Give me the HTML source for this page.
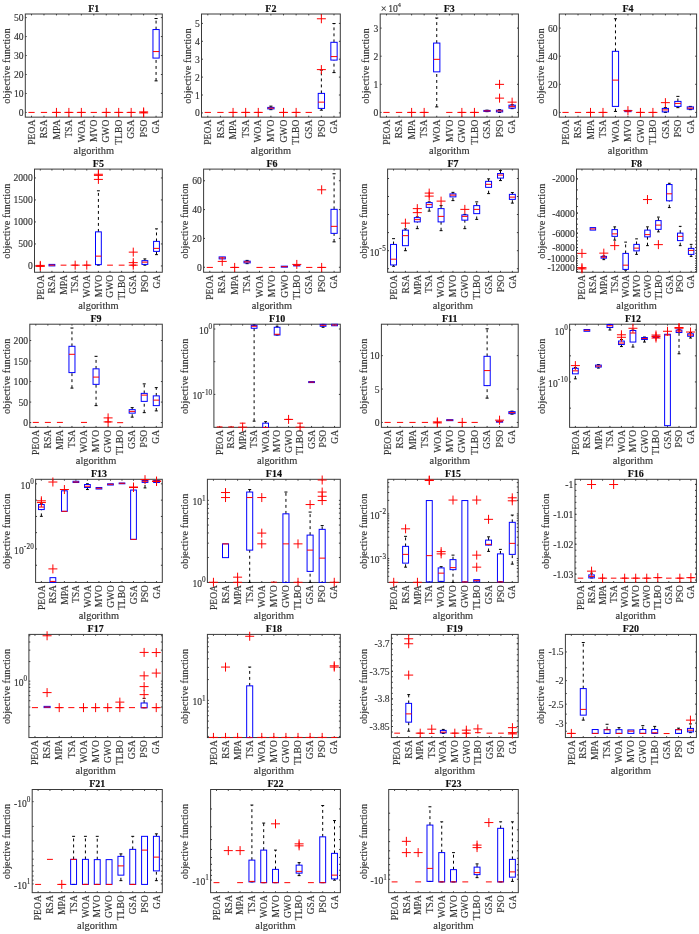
<!DOCTYPE html><html><head><meta charset="utf-8"><style>html,body{margin:0;padding:0;background:#fff;overflow:hidden;}svg{display:block;filter:blur(0.35px);}text{font-family:"Liberation Serif",serif;stroke:currentColor;stroke-width:0.15px;}</style></head><body><svg width="699" height="934" viewBox="0 0 699 934" font-family="Liberation Serif, serif" stroke-width="1"><g><clipPath id="cF1"><rect x="24.7" y="13.4" width="138.2" height="104.35"/></clipPath><rect x="25.3" y="14" width="137" height="103.15" fill="none" stroke="#3a3a3a"/><path d="M31.53 117.15v-1.4M31.53 14v1.4M43.98 117.15v-1.4M43.98 14v1.4M56.44 117.15v-1.4M56.44 14v1.4M68.89 117.15v-1.4M68.89 14v1.4M81.35 117.15v-1.4M81.35 14v1.4M93.8 117.15v-1.4M93.8 14v1.4M106.25 117.15v-1.4M106.25 14v1.4M118.71 117.15v-1.4M118.71 14v1.4M131.16 117.15v-1.4M131.16 14v1.4M143.62 117.15v-1.4M143.62 14v1.4M156.07 117.15v-1.4M156.07 14v1.4M25.3 17.6h1.4M162.3 17.6h-1.4M25.3 36.57h1.4M162.3 36.57h-1.4M25.3 55.54h1.4M162.3 55.54h-1.4M25.3 74.5h1.4M162.3 74.5h-1.4M25.3 93.47h1.4M162.3 93.47h-1.4M25.3 112.44h1.4M162.3 112.44h-1.4" stroke="#3a3a3a" stroke-width="1.0" fill="none"/><g clip-path="url(#cF1)" stroke-width="1.0"><path d="M28.41 112.41H34.64" stroke="#ff0000"/><path d="M40.87 112.41H47.1" stroke="#ff0000"/><path d="M53.32 112.41H59.55" stroke="#ff0000"/><path d="M65.78 112.41H72" stroke="#ff0000"/><path d="M78.23 112.41H84.46" stroke="#ff0000"/><path d="M90.69 112.41H96.91" stroke="#ff0000"/><path d="M103.14 112.41H109.37" stroke="#ff0000"/><path d="M115.6 112.41H121.82" stroke="#ff0000"/><path d="M128.05 112.41H134.28" stroke="#ff0000"/><path d="M140.5 112.41H146.73" stroke="#ff0000"/><path d="M156.07 29.54V18.53M156.07 80.87V58.08" stroke="#000000" stroke-dasharray="2.9 3.1" fill="none"/><path d="M154.52 18.53H157.63M154.52 80.87H157.63" stroke="#000000" fill="none"/><rect x="152.96" y="29.54" width="6.23" height="28.54" stroke="#0000ff" fill="none"/><path d="M152.96 51.57H159.19" stroke="#ff0000"/></g><g stroke-width="1.0"><path d="M51.94 112.41H60.94M56.44 107.91V116.91" stroke="#ff0000"/><path d="M64.39 112.41H73.39M68.89 107.91V116.91" stroke="#ff0000"/><path d="M76.85 112.41H85.85M81.35 107.91V116.91" stroke="#ff0000"/><path d="M101.75 112.41H110.75M106.25 107.91V116.91" stroke="#ff0000"/><path d="M114.21 112.41H123.21M118.71 107.91V116.91" stroke="#ff0000"/><path d="M126.66 112.41H135.66M131.16 107.91V116.91" stroke="#ff0000"/><path d="M139.12 111.91H148.12M143.62 107.41V116.41" stroke="#ff0000"/><path d="M139.12 112.91H148.12M143.62 108.41V117.41" stroke="#ff0000"/></g><text x="23.5" y="21.1" text-anchor="end" font-size="9.6" fill="#333333" color="#333333">50</text><text x="23.5" y="40.07" text-anchor="end" font-size="9.6" fill="#333333" color="#333333">40</text><text x="23.5" y="59.04" text-anchor="end" font-size="9.6" fill="#333333" color="#333333">30</text><text x="23.5" y="78" text-anchor="end" font-size="9.6" fill="#333333" color="#333333">20</text><text x="23.5" y="96.97" text-anchor="end" font-size="9.6" fill="#333333" color="#333333">10</text><text x="23.5" y="115.94" text-anchor="end" font-size="9.6" fill="#333333" color="#333333">0</text><text transform="translate(34.73,119.65) rotate(-90)" text-anchor="end" font-size="9.6" fill="#333333" color="#333333">PEOA</text><text transform="translate(47.18,119.65) rotate(-90)" text-anchor="end" font-size="9.6" fill="#333333" color="#333333">RSA</text><text transform="translate(59.64,119.65) rotate(-90)" text-anchor="end" font-size="9.6" fill="#333333" color="#333333">MPA</text><text transform="translate(72.09,119.65) rotate(-90)" text-anchor="end" font-size="9.6" fill="#333333" color="#333333">TSA</text><text transform="translate(84.55,119.65) rotate(-90)" text-anchor="end" font-size="9.6" fill="#333333" color="#333333">WOA</text><text transform="translate(97,119.65) rotate(-90)" text-anchor="end" font-size="9.6" fill="#333333" color="#333333">MVO</text><text transform="translate(109.45,119.65) rotate(-90)" text-anchor="end" font-size="9.6" fill="#333333" color="#333333">GWO</text><text transform="translate(121.91,119.65) rotate(-90)" text-anchor="end" font-size="9.6" fill="#333333" color="#333333">TLBO</text><text transform="translate(134.36,119.65) rotate(-90)" text-anchor="end" font-size="9.6" fill="#333333" color="#333333">GSA</text><text transform="translate(146.82,119.65) rotate(-90)" text-anchor="end" font-size="9.6" fill="#333333" color="#333333">PSO</text><text transform="translate(159.27,119.65) rotate(-90)" text-anchor="end" font-size="9.6" fill="#333333" color="#333333">GA</text><text x="93.8" y="11.8" text-anchor="middle" font-size="10.0" font-weight="bold" fill="#101010" color="#101010">F1</text><text transform="translate(10.3,66.03) rotate(-90)" text-anchor="middle" font-size="10.4" fill="#333333" color="#333333">objective function</text><text x="93.8" y="153.85" text-anchor="middle" font-size="10.4" fill="#333333" color="#333333">algorithm</text></g><g><clipPath id="cF2"><rect x="200.9" y="13.4" width="140" height="104.35"/></clipPath><rect x="201.5" y="14" width="138.8" height="103.15" fill="none" stroke="#3a3a3a"/><path d="M207.81 117.15v-1.4M207.81 14v1.4M220.43 117.15v-1.4M220.43 14v1.4M233.05 117.15v-1.4M233.05 14v1.4M245.66 117.15v-1.4M245.66 14v1.4M258.28 117.15v-1.4M258.28 14v1.4M270.9 117.15v-1.4M270.9 14v1.4M283.52 117.15v-1.4M283.52 14v1.4M296.14 117.15v-1.4M296.14 14v1.4M308.75 117.15v-1.4M308.75 14v1.4M321.37 117.15v-1.4M321.37 14v1.4M333.99 117.15v-1.4M333.99 14v1.4M201.5 23.4h1.4M340.3 23.4h-1.4M201.5 41.3h1.4M340.3 41.3h-1.4M201.5 59.2h1.4M340.3 59.2h-1.4M201.5 77.1h1.4M340.3 77.1h-1.4M201.5 95h1.4M340.3 95h-1.4M201.5 112.9h1.4M340.3 112.9h-1.4" stroke="#3a3a3a" stroke-width="1.0" fill="none"/><g clip-path="url(#cF2)" stroke-width="1.0"><path d="M204.65 112.41H210.96" stroke="#ff0000"/><path d="M217.27 112.41H223.58" stroke="#ff0000"/><path d="M229.89 112.41H236.2" stroke="#ff0000"/><path d="M242.51 112.41H248.82" stroke="#ff0000"/><path d="M255.13 112.41H261.44" stroke="#ff0000"/><path d="M270.9 107.4V106.15M270.9 109.66V108.91" stroke="#000000" stroke-dasharray="2.9 3.1" fill="none"/><path d="M269.32 106.15H272.48M269.32 109.66H272.48" stroke="#000000" fill="none"/><rect x="267.75" y="107.4" width="6.31" height="1.5" stroke="#0000ff" fill="none"/><path d="M267.75 108.15H274.05" stroke="#ff0000"/><path d="M280.36 112.41H286.67" stroke="#ff0000"/><path d="M292.98 112.41H299.29" stroke="#ff0000"/><path d="M305.6 112.41H311.91" stroke="#ff0000"/><path d="M321.37 93.38V70.1M321.37 110.16V108.4" stroke="#000000" stroke-dasharray="2.9 3.1" fill="none"/><path d="M319.8 70.1H322.95M319.8 110.16H322.95" stroke="#000000" fill="none"/><rect x="318.22" y="93.38" width="6.31" height="15.02" stroke="#0000ff" fill="none"/><path d="M318.22 102.15H324.53" stroke="#ff0000"/><path d="M333.99 42.31V23.53M333.99 72.6V60.09" stroke="#000000" stroke-dasharray="2.9 3.1" fill="none"/><path d="M332.41 23.53H335.57M332.41 72.6H335.57" stroke="#000000" fill="none"/><rect x="330.84" y="42.31" width="6.31" height="17.78" stroke="#0000ff" fill="none"/><path d="M330.84 56.58H337.15" stroke="#ff0000"/></g><g stroke-width="1.0"><path d="M228.55 112.41H237.55M233.05 107.91V116.91" stroke="#ff0000"/><path d="M241.16 112.41H250.16M245.66 107.91V116.91" stroke="#ff0000"/><path d="M253.78 112.41H262.78M258.28 107.91V116.91" stroke="#ff0000"/><path d="M279.02 112.41H288.02M283.52 107.91V116.91" stroke="#ff0000"/><path d="M291.64 112.41H300.64M296.14 107.91V116.91" stroke="#ff0000"/><path d="M316.87 18.78H325.87M321.37 14.28V23.28" stroke="#ff0000"/><path d="M316.87 69.6H325.87M321.37 65.1V74.1" stroke="#ff0000"/></g><text x="199.7" y="26.9" text-anchor="end" font-size="9.6" fill="#333333" color="#333333">5</text><text x="199.7" y="44.8" text-anchor="end" font-size="9.6" fill="#333333" color="#333333">4</text><text x="199.7" y="62.7" text-anchor="end" font-size="9.6" fill="#333333" color="#333333">3</text><text x="199.7" y="80.6" text-anchor="end" font-size="9.6" fill="#333333" color="#333333">2</text><text x="199.7" y="98.5" text-anchor="end" font-size="9.6" fill="#333333" color="#333333">1</text><text x="199.7" y="116.4" text-anchor="end" font-size="9.6" fill="#333333" color="#333333">0</text><text transform="translate(211.01,119.65) rotate(-90)" text-anchor="end" font-size="9.6" fill="#333333" color="#333333">PEOA</text><text transform="translate(223.63,119.65) rotate(-90)" text-anchor="end" font-size="9.6" fill="#333333" color="#333333">RSA</text><text transform="translate(236.25,119.65) rotate(-90)" text-anchor="end" font-size="9.6" fill="#333333" color="#333333">MPA</text><text transform="translate(248.86,119.65) rotate(-90)" text-anchor="end" font-size="9.6" fill="#333333" color="#333333">TSA</text><text transform="translate(261.48,119.65) rotate(-90)" text-anchor="end" font-size="9.6" fill="#333333" color="#333333">WOA</text><text transform="translate(274.1,119.65) rotate(-90)" text-anchor="end" font-size="9.6" fill="#333333" color="#333333">MVO</text><text transform="translate(286.72,119.65) rotate(-90)" text-anchor="end" font-size="9.6" fill="#333333" color="#333333">GWO</text><text transform="translate(299.34,119.65) rotate(-90)" text-anchor="end" font-size="9.6" fill="#333333" color="#333333">TLBO</text><text transform="translate(311.95,119.65) rotate(-90)" text-anchor="end" font-size="9.6" fill="#333333" color="#333333">GSA</text><text transform="translate(324.57,119.65) rotate(-90)" text-anchor="end" font-size="9.6" fill="#333333" color="#333333">PSO</text><text transform="translate(337.19,119.65) rotate(-90)" text-anchor="end" font-size="9.6" fill="#333333" color="#333333">GA</text><text x="270.9" y="11.8" text-anchor="middle" font-size="10.0" font-weight="bold" fill="#101010" color="#101010">F2</text><text transform="translate(191.1,66.03) rotate(-90)" text-anchor="middle" font-size="10.4" fill="#333333" color="#333333">objective function</text><text x="270.9" y="153.85" text-anchor="middle" font-size="10.4" fill="#333333" color="#333333">algorithm</text></g><g><clipPath id="cF3"><rect x="379.6" y="13.4" width="139.4" height="104.35"/></clipPath><rect x="380.2" y="14" width="138.2" height="103.15" fill="none" stroke="#3a3a3a"/><path d="M386.48 117.15v-1.4M386.48 14v1.4M399.05 117.15v-1.4M399.05 14v1.4M411.61 117.15v-1.4M411.61 14v1.4M424.17 117.15v-1.4M424.17 14v1.4M436.74 117.15v-1.4M436.74 14v1.4M449.3 117.15v-1.4M449.3 14v1.4M461.86 117.15v-1.4M461.86 14v1.4M474.43 117.15v-1.4M474.43 14v1.4M486.99 117.15v-1.4M486.99 14v1.4M499.55 117.15v-1.4M499.55 14v1.4M512.12 117.15v-1.4M512.12 14v1.4M380.2 28.1h1.4M518.4 28.1h-1.4M380.2 56.2h1.4M518.4 56.2h-1.4M380.2 84.3h1.4M518.4 84.3h-1.4M380.2 112.4h1.4M518.4 112.4h-1.4" stroke="#3a3a3a" stroke-width="1.0" fill="none"/><g clip-path="url(#cF3)" stroke-width="1.0"><path d="M383.34 112.41H389.62" stroke="#ff0000"/><path d="M395.9 112.41H402.19" stroke="#ff0000"/><path d="M408.47 112.41H414.75" stroke="#ff0000"/><path d="M421.03 112.41H427.31" stroke="#ff0000"/><path d="M436.74 43.06V18.03M436.74 106.9V71.85" stroke="#000000" stroke-dasharray="2.9 3.1" fill="none"/><path d="M435.17 18.03H438.31M435.17 106.9H438.31" stroke="#000000" fill="none"/><rect x="433.6" y="43.06" width="6.28" height="28.79" stroke="#0000ff" fill="none"/><path d="M433.6 59.33H439.88" stroke="#ff0000"/><path d="M446.16 112.41H452.44" stroke="#ff0000"/><path d="M458.72 112.41H465" stroke="#ff0000"/><path d="M471.29 112.41H477.57" stroke="#ff0000"/><path d="M486.99 110.41V110.16M486.99 111.66V111.41" stroke="#000000" stroke-dasharray="2.9 3.1" fill="none"/><path d="M485.42 110.16H488.56M485.42 111.66H488.56" stroke="#000000" fill="none"/><rect x="483.85" y="110.41" width="6.28" height="1" stroke="#0000ff" fill="none"/><path d="M483.85 110.91H490.13" stroke="#ff0000"/><path d="M499.55 110.16V109.66M499.55 112.41V111.91" stroke="#000000" stroke-dasharray="2.9 3.1" fill="none"/><path d="M497.98 109.66H501.12M497.98 112.41H501.12" stroke="#000000" fill="none"/><rect x="496.41" y="110.16" width="6.28" height="1.75" stroke="#0000ff" fill="none"/><path d="M496.41 110.91H502.7" stroke="#ff0000"/><path d="M512.12 105.15V104.65M512.12 108.66V108.15" stroke="#000000" stroke-dasharray="2.9 3.1" fill="none"/><path d="M510.55 104.65H513.69M510.55 108.66H513.69" stroke="#000000" fill="none"/><rect x="508.98" y="105.15" width="6.28" height="3" stroke="#0000ff" fill="none"/><path d="M508.98 106.65H515.26" stroke="#ff0000"/></g><g stroke-width="1.0"><path d="M407.11 112.41H416.11M411.61 107.91V116.91" stroke="#ff0000"/><path d="M419.67 112.41H428.67M424.17 107.91V116.91" stroke="#ff0000"/><path d="M457.36 112.41H466.36M461.86 107.91V116.91" stroke="#ff0000"/><path d="M469.93 112.41H478.93M474.43 107.91V116.91" stroke="#ff0000"/><path d="M495.05 84.37H504.05M499.55 79.87V88.87" stroke="#ff0000"/><path d="M495.05 98.14H504.05M499.55 93.64V102.64" stroke="#ff0000"/><path d="M507.62 102.15H516.62M512.12 97.65V106.65" stroke="#ff0000"/></g><text x="378.4" y="31.6" text-anchor="end" font-size="9.6" fill="#333333" color="#333333">3</text><text x="378.4" y="59.7" text-anchor="end" font-size="9.6" fill="#333333" color="#333333">2</text><text x="378.4" y="87.8" text-anchor="end" font-size="9.6" fill="#333333" color="#333333">1</text><text x="378.4" y="115.9" text-anchor="end" font-size="9.6" fill="#333333" color="#333333">0</text><text transform="translate(389.68,119.65) rotate(-90)" text-anchor="end" font-size="9.6" fill="#333333" color="#333333">PEOA</text><text transform="translate(402.25,119.65) rotate(-90)" text-anchor="end" font-size="9.6" fill="#333333" color="#333333">RSA</text><text transform="translate(414.81,119.65) rotate(-90)" text-anchor="end" font-size="9.6" fill="#333333" color="#333333">MPA</text><text transform="translate(427.37,119.65) rotate(-90)" text-anchor="end" font-size="9.6" fill="#333333" color="#333333">TSA</text><text transform="translate(439.94,119.65) rotate(-90)" text-anchor="end" font-size="9.6" fill="#333333" color="#333333">WOA</text><text transform="translate(452.5,119.65) rotate(-90)" text-anchor="end" font-size="9.6" fill="#333333" color="#333333">MVO</text><text transform="translate(465.06,119.65) rotate(-90)" text-anchor="end" font-size="9.6" fill="#333333" color="#333333">GWO</text><text transform="translate(477.63,119.65) rotate(-90)" text-anchor="end" font-size="9.6" fill="#333333" color="#333333">TLBO</text><text transform="translate(490.19,119.65) rotate(-90)" text-anchor="end" font-size="9.6" fill="#333333" color="#333333">GSA</text><text transform="translate(502.75,119.65) rotate(-90)" text-anchor="end" font-size="9.6" fill="#333333" color="#333333">PSO</text><text transform="translate(515.32,119.65) rotate(-90)" text-anchor="end" font-size="9.6" fill="#333333" color="#333333">GA</text><text x="449.3" y="11.8" text-anchor="middle" font-size="10.0" font-weight="bold" fill="#101010" color="#101010">F3</text><text transform="translate(368.9,66.03) rotate(-90)" text-anchor="middle" font-size="10.4" fill="#333333" color="#333333">objective function</text><text x="449.3" y="153.85" text-anchor="middle" font-size="10.4" fill="#333333" color="#333333">algorithm</text><text x="380.8" y="12" font-size="9.6" fill="#333333" color="#333333"><tspan font-size="10.5">×</tspan><tspan dx="1.6">10</tspan><tspan dx="-0.4" dy="-5" font-size="6.91">4</tspan></text></g><g><clipPath id="cF4"><rect x="558.7" y="13.4" width="138.5" height="104.35"/></clipPath><rect x="559.3" y="14" width="137.3" height="103.15" fill="none" stroke="#3a3a3a"/><path d="M565.54 117.15v-1.4M565.54 14v1.4M578.02 117.15v-1.4M578.02 14v1.4M590.5 117.15v-1.4M590.5 14v1.4M602.99 117.15v-1.4M602.99 14v1.4M615.47 117.15v-1.4M615.47 14v1.4M627.95 117.15v-1.4M627.95 14v1.4M640.43 117.15v-1.4M640.43 14v1.4M652.91 117.15v-1.4M652.91 14v1.4M665.4 117.15v-1.4M665.4 14v1.4M677.88 117.15v-1.4M677.88 14v1.4M690.36 117.15v-1.4M690.36 14v1.4M559.3 28.1h1.4M696.6 28.1h-1.4M559.3 56.2h1.4M696.6 56.2h-1.4M559.3 84.3h1.4M696.6 84.3h-1.4M559.3 112.4h1.4M696.6 112.4h-1.4" stroke="#3a3a3a" stroke-width="1.0" fill="none"/><g clip-path="url(#cF4)" stroke-width="1.0"><path d="M562.42 112.41H568.66" stroke="#ff0000"/><path d="M574.9 112.41H581.14" stroke="#ff0000"/><path d="M587.38 112.41H593.62" stroke="#ff0000"/><path d="M599.87 112.41H606.11" stroke="#ff0000"/><path d="M615.47 51.32V18.78M615.47 111.41V106.4" stroke="#000000" stroke-dasharray="2.9 3.1" fill="none"/><path d="M613.91 18.78H617.03M613.91 111.41H617.03" stroke="#000000" fill="none"/><rect x="612.35" y="51.32" width="6.24" height="55.08" stroke="#0000ff" fill="none"/><path d="M612.35 80.11H618.59" stroke="#ff0000"/><rect x="624.83" y="110.41" width="6.24" height="1.25" stroke="#0000ff" fill="none"/><path d="M624.83 111.16H631.07" stroke="#ff0000"/><path d="M637.31 112.41H643.55" stroke="#ff0000"/><path d="M649.79 112.41H656.03" stroke="#ff0000"/><path d="M665.4 108.4V107.65M665.4 112.41V111.91" stroke="#000000" stroke-dasharray="2.9 3.1" fill="none"/><path d="M663.84 107.65H666.96M663.84 112.41H666.96" stroke="#000000" fill="none"/><rect x="662.27" y="108.4" width="6.24" height="3.51" stroke="#0000ff" fill="none"/><path d="M662.27 109.91H668.52" stroke="#ff0000"/><path d="M677.88 101.39V96.39M677.88 107.65V106.4" stroke="#000000" stroke-dasharray="2.9 3.1" fill="none"/><path d="M676.32 96.39H679.44M676.32 107.65H679.44" stroke="#000000" fill="none"/><rect x="674.76" y="101.39" width="6.24" height="5.01" stroke="#0000ff" fill="none"/><path d="M674.76 103.4H681" stroke="#ff0000"/><path d="M690.36 106.9V106.4M690.36 109.66V109.16" stroke="#000000" stroke-dasharray="2.9 3.1" fill="none"/><path d="M688.8 106.4H691.92M688.8 109.66H691.92" stroke="#000000" fill="none"/><rect x="687.24" y="106.9" width="6.24" height="2.25" stroke="#0000ff" fill="none"/><path d="M687.24 108.15H693.48" stroke="#ff0000"/></g><g stroke-width="1.0"><path d="M586 112.41H595M590.5 107.91V116.91" stroke="#ff0000"/><path d="M598.49 112.41H607.49M602.99 107.91V116.91" stroke="#ff0000"/><path d="M623.45 110.66H632.45M627.95 106.16V115.16" stroke="#ff0000"/><path d="M635.93 112.41H644.93M640.43 107.91V116.91" stroke="#ff0000"/><path d="M648.41 112.41H657.41M652.91 107.91V116.91" stroke="#ff0000"/><path d="M660.9 102.65H669.9M665.4 98.15V107.15" stroke="#ff0000"/></g><text x="557.5" y="31.6" text-anchor="end" font-size="9.6" fill="#333333" color="#333333">60</text><text x="557.5" y="59.7" text-anchor="end" font-size="9.6" fill="#333333" color="#333333">40</text><text x="557.5" y="87.8" text-anchor="end" font-size="9.6" fill="#333333" color="#333333">20</text><text x="557.5" y="115.9" text-anchor="end" font-size="9.6" fill="#333333" color="#333333">0</text><text transform="translate(568.74,119.65) rotate(-90)" text-anchor="end" font-size="9.6" fill="#333333" color="#333333">PEOA</text><text transform="translate(581.22,119.65) rotate(-90)" text-anchor="end" font-size="9.6" fill="#333333" color="#333333">RSA</text><text transform="translate(593.7,119.65) rotate(-90)" text-anchor="end" font-size="9.6" fill="#333333" color="#333333">MPA</text><text transform="translate(606.19,119.65) rotate(-90)" text-anchor="end" font-size="9.6" fill="#333333" color="#333333">TSA</text><text transform="translate(618.67,119.65) rotate(-90)" text-anchor="end" font-size="9.6" fill="#333333" color="#333333">WOA</text><text transform="translate(631.15,119.65) rotate(-90)" text-anchor="end" font-size="9.6" fill="#333333" color="#333333">MVO</text><text transform="translate(643.63,119.65) rotate(-90)" text-anchor="end" font-size="9.6" fill="#333333" color="#333333">GWO</text><text transform="translate(656.11,119.65) rotate(-90)" text-anchor="end" font-size="9.6" fill="#333333" color="#333333">TLBO</text><text transform="translate(668.6,119.65) rotate(-90)" text-anchor="end" font-size="9.6" fill="#333333" color="#333333">GSA</text><text transform="translate(681.08,119.65) rotate(-90)" text-anchor="end" font-size="9.6" fill="#333333" color="#333333">PSO</text><text transform="translate(693.56,119.65) rotate(-90)" text-anchor="end" font-size="9.6" fill="#333333" color="#333333">GA</text><text x="627.95" y="11.8" text-anchor="middle" font-size="10.0" font-weight="bold" fill="#101010" color="#101010">F4</text><text transform="translate(544.1,66.03) rotate(-90)" text-anchor="middle" font-size="10.4" fill="#333333" color="#333333">objective function</text><text x="627.95" y="153.85" text-anchor="middle" font-size="10.4" fill="#333333" color="#333333">algorithm</text></g><g><clipPath id="cF5"><rect x="33.9" y="168.5" width="129" height="104.35"/></clipPath><rect x="34.5" y="169.1" width="127.8" height="103.15" fill="none" stroke="#3a3a3a"/><path d="M40.31 272.25v-1.4M40.31 169.1v1.4M51.93 272.25v-1.4M51.93 169.1v1.4M63.55 272.25v-1.4M63.55 169.1v1.4M75.16 272.25v-1.4M75.16 169.1v1.4M86.78 272.25v-1.4M86.78 169.1v1.4M98.4 272.25v-1.4M98.4 169.1v1.4M110.02 272.25v-1.4M110.02 169.1v1.4M121.64 272.25v-1.4M121.64 169.1v1.4M133.25 272.25v-1.4M133.25 169.1v1.4M144.87 272.25v-1.4M144.87 169.1v1.4M156.49 272.25v-1.4M156.49 169.1v1.4M34.5 177.95h1.4M162.3 177.95h-1.4M34.5 199.95h1.4M162.3 199.95h-1.4M34.5 221.95h1.4M162.3 221.95h-1.4M34.5 243.95h1.4M162.3 243.95h-1.4M34.5 265.95h1.4M162.3 265.95h-1.4" stroke="#3a3a3a" stroke-width="1.0" fill="none"/><g clip-path="url(#cF5)" stroke-width="1.0"><path d="M37.4 265.91H43.21" stroke="#ff0000"/><rect x="49.02" y="264.41" width="5.81" height="1.5" stroke="#0000ff" fill="none"/><path d="M49.02 265.16H54.83" stroke="#ff0000"/><path d="M60.64 265.16H66.45" stroke="#ff0000"/><path d="M72.26 265.16H78.07" stroke="#ff0000"/><path d="M83.88 265.16H89.69" stroke="#ff0000"/><path d="M98.4 231.86V190.8M98.4 265.16V264.66" stroke="#000000" stroke-dasharray="2.9 3.1" fill="none"/><path d="M96.95 190.8H99.85M96.95 265.16H99.85" stroke="#000000" fill="none"/><rect x="95.5" y="231.86" width="5.81" height="32.8" stroke="#0000ff" fill="none"/><path d="M95.5 256.14H101.3" stroke="#ff0000"/><path d="M107.11 265.16H112.92" stroke="#ff0000"/><path d="M118.73 265.16H124.54" stroke="#ff0000"/><path d="M130.35 265.16H136.16" stroke="#ff0000"/><path d="M144.87 260.65V258.9M144.87 265.16V264.41" stroke="#000000" stroke-dasharray="2.9 3.1" fill="none"/><path d="M143.42 258.9H146.32M143.42 265.16H146.32" stroke="#000000" fill="none"/><rect x="141.97" y="260.65" width="5.81" height="3.76" stroke="#0000ff" fill="none"/><path d="M141.97 262.15H147.78" stroke="#ff0000"/><path d="M156.49 241.37V228.86M156.49 254.64V251.39" stroke="#000000" stroke-dasharray="2.9 3.1" fill="none"/><path d="M155.04 228.86H157.94M155.04 254.64H157.94" stroke="#000000" fill="none"/><rect x="153.59" y="241.37" width="5.81" height="10.01" stroke="#0000ff" fill="none"/><path d="M153.59 248.38H159.4" stroke="#ff0000"/></g><g stroke-width="1.0"><path d="M35.81 265.41H44.81M40.31 260.91V269.91" stroke="#ff0000"/><path d="M35.81 266.41H44.81M40.31 261.91V270.91" stroke="#ff0000"/><path d="M70.66 265.16H79.66M75.16 260.66V269.66" stroke="#ff0000"/><path d="M82.28 265.16H91.28M86.78 260.66V269.66" stroke="#ff0000"/><path d="M93.9 174.28H102.9M98.4 169.78V178.78" stroke="#ff0000"/><path d="M93.9 175.4H102.9M98.4 170.9V179.9" stroke="#ff0000"/><path d="M93.9 179.41H102.9M98.4 174.91V183.91" stroke="#ff0000"/><path d="M128.75 252.14H137.75M133.25 247.64V256.64" stroke="#ff0000"/><path d="M128.75 262.65H137.75M133.25 258.15V267.15" stroke="#ff0000"/><path d="M128.75 265.16H137.75M133.25 260.66V269.66" stroke="#ff0000"/></g><text x="32.7" y="181.45" text-anchor="end" font-size="9.6" fill="#333333" color="#333333">2000</text><text x="32.7" y="203.45" text-anchor="end" font-size="9.6" fill="#333333" color="#333333">1500</text><text x="32.7" y="225.45" text-anchor="end" font-size="9.6" fill="#333333" color="#333333">1000</text><text x="32.7" y="247.45" text-anchor="end" font-size="9.6" fill="#333333" color="#333333">500</text><text x="32.7" y="269.45" text-anchor="end" font-size="9.6" fill="#333333" color="#333333">0</text><text transform="translate(43.51,274.75) rotate(-90)" text-anchor="end" font-size="9.6" fill="#333333" color="#333333">PEOA</text><text transform="translate(55.13,274.75) rotate(-90)" text-anchor="end" font-size="9.6" fill="#333333" color="#333333">RSA</text><text transform="translate(66.75,274.75) rotate(-90)" text-anchor="end" font-size="9.6" fill="#333333" color="#333333">MPA</text><text transform="translate(78.36,274.75) rotate(-90)" text-anchor="end" font-size="9.6" fill="#333333" color="#333333">TSA</text><text transform="translate(89.98,274.75) rotate(-90)" text-anchor="end" font-size="9.6" fill="#333333" color="#333333">WOA</text><text transform="translate(101.6,274.75) rotate(-90)" text-anchor="end" font-size="9.6" fill="#333333" color="#333333">MVO</text><text transform="translate(113.22,274.75) rotate(-90)" text-anchor="end" font-size="9.6" fill="#333333" color="#333333">GWO</text><text transform="translate(124.84,274.75) rotate(-90)" text-anchor="end" font-size="9.6" fill="#333333" color="#333333">TLBO</text><text transform="translate(136.45,274.75) rotate(-90)" text-anchor="end" font-size="9.6" fill="#333333" color="#333333">GSA</text><text transform="translate(148.07,274.75) rotate(-90)" text-anchor="end" font-size="9.6" fill="#333333" color="#333333">PSO</text><text transform="translate(159.69,274.75) rotate(-90)" text-anchor="end" font-size="9.6" fill="#333333" color="#333333">GA</text><text x="98.4" y="166.9" text-anchor="middle" font-size="10.0" font-weight="bold" fill="#101010" color="#101010">F5</text><text transform="translate(10.3,221.12) rotate(-90)" text-anchor="middle" font-size="10.4" fill="#333333" color="#333333">objective function</text><text x="98.4" y="308.95" text-anchor="middle" font-size="10.4" fill="#333333" color="#333333">algorithm</text></g><g><clipPath id="cF6"><rect x="203" y="168.5" width="137.9" height="104.35"/></clipPath><rect x="203.6" y="169.1" width="136.7" height="103.15" fill="none" stroke="#3a3a3a"/><path d="M209.81 272.25v-1.4M209.81 169.1v1.4M222.24 272.25v-1.4M222.24 169.1v1.4M234.67 272.25v-1.4M234.67 169.1v1.4M247.1 272.25v-1.4M247.1 169.1v1.4M259.52 272.25v-1.4M259.52 169.1v1.4M271.95 272.25v-1.4M271.95 169.1v1.4M284.38 272.25v-1.4M284.38 169.1v1.4M296.8 272.25v-1.4M296.8 169.1v1.4M309.23 272.25v-1.4M309.23 169.1v1.4M321.66 272.25v-1.4M321.66 169.1v1.4M334.09 272.25v-1.4M334.09 169.1v1.4M203.6 180.75h1.4M340.3 180.75h-1.4M203.6 209.58h1.4M340.3 209.58h-1.4M203.6 238.42h1.4M340.3 238.42h-1.4M203.6 267.25h1.4M340.3 267.25h-1.4" stroke="#3a3a3a" stroke-width="1.0" fill="none"/><g clip-path="url(#cF6)" stroke-width="1.0"><path d="M206.71 267.41H212.92" stroke="#ff0000"/><rect x="219.13" y="256.9" width="6.21" height="2" stroke="#0000ff" fill="none"/><path d="M219.13 257.9H225.35" stroke="#ff0000"/><path d="M231.56 267.41H237.77" stroke="#ff0000"/><path d="M247.1 261.15V260.4M247.1 263.66V262.9" stroke="#000000" stroke-dasharray="2.9 3.1" fill="none"/><path d="M245.54 260.4H248.65M245.54 263.66H248.65" stroke="#000000" fill="none"/><rect x="243.99" y="261.15" width="6.21" height="1.75" stroke="#0000ff" fill="none"/><path d="M243.99 261.9H250.2" stroke="#ff0000"/><path d="M256.42 267.41H262.63" stroke="#ff0000"/><path d="M268.84 267.41H275.06" stroke="#ff0000"/><rect x="281.27" y="266.16" width="6.21" height="1" stroke="#0000ff" fill="none"/><path d="M281.27 266.66H287.48" stroke="#ff0000"/><rect x="293.7" y="265.16" width="6.21" height="0.75" stroke="#0000ff" fill="none"/><path d="M293.7 265.41H299.91" stroke="#ff0000"/><path d="M306.12 267.41H312.34" stroke="#ff0000"/><path d="M318.55 267.41H324.77" stroke="#ff0000"/><path d="M334.09 209.33V173.78M334.09 241.87V233.36" stroke="#000000" stroke-dasharray="2.9 3.1" fill="none"/><path d="M332.53 173.78H335.64M332.53 241.87H335.64" stroke="#000000" fill="none"/><rect x="330.98" y="209.33" width="6.21" height="24.03" stroke="#0000ff" fill="none"/><path d="M330.98 226.35H337.19" stroke="#ff0000"/></g><g stroke-width="1.0"><path d="M217.74 261.4H226.74M222.24 256.9V265.9" stroke="#ff0000"/><path d="M230.17 267.41H239.17M234.67 262.91V271.91" stroke="#ff0000"/><path d="M292.3 264.41H301.3M296.8 259.91V268.91" stroke="#ff0000"/><path d="M317.16 189.8H326.16M321.66 185.3V194.3" stroke="#ff0000"/><path d="M317.16 267.41H326.16M321.66 262.91V271.91" stroke="#ff0000"/></g><text x="201.8" y="184.25" text-anchor="end" font-size="9.6" fill="#333333" color="#333333">60</text><text x="201.8" y="213.08" text-anchor="end" font-size="9.6" fill="#333333" color="#333333">40</text><text x="201.8" y="241.92" text-anchor="end" font-size="9.6" fill="#333333" color="#333333">20</text><text x="201.8" y="270.75" text-anchor="end" font-size="9.6" fill="#333333" color="#333333">0</text><text transform="translate(213.01,274.75) rotate(-90)" text-anchor="end" font-size="9.6" fill="#333333" color="#333333">PEOA</text><text transform="translate(225.44,274.75) rotate(-90)" text-anchor="end" font-size="9.6" fill="#333333" color="#333333">RSA</text><text transform="translate(237.87,274.75) rotate(-90)" text-anchor="end" font-size="9.6" fill="#333333" color="#333333">MPA</text><text transform="translate(250.3,274.75) rotate(-90)" text-anchor="end" font-size="9.6" fill="#333333" color="#333333">TSA</text><text transform="translate(262.72,274.75) rotate(-90)" text-anchor="end" font-size="9.6" fill="#333333" color="#333333">WOA</text><text transform="translate(275.15,274.75) rotate(-90)" text-anchor="end" font-size="9.6" fill="#333333" color="#333333">MVO</text><text transform="translate(287.58,274.75) rotate(-90)" text-anchor="end" font-size="9.6" fill="#333333" color="#333333">GWO</text><text transform="translate(300,274.75) rotate(-90)" text-anchor="end" font-size="9.6" fill="#333333" color="#333333">TLBO</text><text transform="translate(312.43,274.75) rotate(-90)" text-anchor="end" font-size="9.6" fill="#333333" color="#333333">GSA</text><text transform="translate(324.86,274.75) rotate(-90)" text-anchor="end" font-size="9.6" fill="#333333" color="#333333">PSO</text><text transform="translate(337.29,274.75) rotate(-90)" text-anchor="end" font-size="9.6" fill="#333333" color="#333333">GA</text><text x="271.95" y="166.9" text-anchor="middle" font-size="10.0" font-weight="bold" fill="#101010" color="#101010">F6</text><text transform="translate(188.4,221.12) rotate(-90)" text-anchor="middle" font-size="10.4" fill="#333333" color="#333333">objective function</text><text x="271.95" y="308.95" text-anchor="middle" font-size="10.4" fill="#333333" color="#333333">algorithm</text></g><g><clipPath id="cF7"><rect x="387" y="168.5" width="131.9" height="104.35"/></clipPath><rect x="387.6" y="169.1" width="130.7" height="103.15" fill="none" stroke="#3a3a3a"/><path d="M393.54 272.25v-1.4M393.54 169.1v1.4M405.42 272.25v-1.4M405.42 169.1v1.4M417.3 272.25v-1.4M417.3 169.1v1.4M429.19 272.25v-1.4M429.19 169.1v1.4M441.07 272.25v-1.4M441.07 169.1v1.4M452.95 272.25v-1.4M452.95 169.1v1.4M464.83 272.25v-1.4M464.83 169.1v1.4M476.71 272.25v-1.4M476.71 169.1v1.4M488.6 272.25v-1.4M488.6 169.1v1.4M500.48 272.25v-1.4M500.48 169.1v1.4M512.36 272.25v-1.4M512.36 169.1v1.4M387.6 178.5h1.4M518.3 178.5h-1.4M387.6 196.5h1.4M518.3 196.5h-1.4M387.6 214.5h1.4M518.3 214.5h-1.4M387.6 232.6h1.4M518.3 232.6h-1.4M387.6 250.7h1.4M518.3 250.7h-1.4M387.6 268.7h1.4M518.3 268.7h-1.4" stroke="#3a3a3a" stroke-width="1.0" fill="none"/><g clip-path="url(#cF7)" stroke-width="1.0"><path d="M393.54 244.43V238.67M393.54 266.21V264.96" stroke="#000000" stroke-dasharray="2.9 3.1" fill="none"/><path d="M392.06 238.67H395.03M392.06 266.21H395.03" stroke="#000000" fill="none"/><rect x="390.57" y="244.43" width="5.94" height="20.53" stroke="#0000ff" fill="none"/><path d="M390.57 259.2H396.51" stroke="#ff0000"/><path d="M405.42 230.16V228.91M405.42 250.69V245.68" stroke="#000000" stroke-dasharray="2.9 3.1" fill="none"/><path d="M403.94 228.91H406.91M403.94 250.69H406.91" stroke="#000000" fill="none"/><rect x="402.45" y="230.16" width="5.94" height="15.52" stroke="#0000ff" fill="none"/><path d="M402.45 235.67H408.39" stroke="#ff0000"/><path d="M417.3 217.64V216.89M417.3 228.66V221.9" stroke="#000000" stroke-dasharray="2.9 3.1" fill="none"/><path d="M415.82 216.89H418.79M415.82 228.66H418.79" stroke="#000000" fill="none"/><rect x="414.33" y="217.64" width="5.94" height="4.26" stroke="#0000ff" fill="none"/><path d="M414.33 219.64H420.27" stroke="#ff0000"/><path d="M429.19 202.62V201.87M429.19 211.13V207.37" stroke="#000000" stroke-dasharray="2.9 3.1" fill="none"/><path d="M427.7 201.87H430.67M427.7 211.13H430.67" stroke="#000000" fill="none"/><rect x="426.22" y="202.62" width="5.94" height="4.76" stroke="#0000ff" fill="none"/><path d="M426.22 204.62H432.16" stroke="#ff0000"/><path d="M441.07 208.63V205.62M441.07 230.66V221.9" stroke="#000000" stroke-dasharray="2.9 3.1" fill="none"/><path d="M439.58 205.62H442.55M439.58 230.66H442.55" stroke="#000000" fill="none"/><rect x="438.1" y="208.63" width="5.94" height="13.27" stroke="#0000ff" fill="none"/><path d="M438.1 216.39H444.04" stroke="#ff0000"/><path d="M452.95 193.86V192.35M452.95 200.62V196.86" stroke="#000000" stroke-dasharray="2.9 3.1" fill="none"/><path d="M451.46 192.35H454.44M451.46 200.62H454.44" stroke="#000000" fill="none"/><rect x="449.98" y="193.86" width="5.94" height="3" stroke="#0000ff" fill="none"/><path d="M449.98 195.11H455.92" stroke="#ff0000"/><path d="M464.83 214.89V214.38M464.83 228.66V220.14" stroke="#000000" stroke-dasharray="2.9 3.1" fill="none"/><path d="M463.35 214.38H466.32M463.35 228.66H466.32" stroke="#000000" fill="none"/><rect x="461.86" y="214.89" width="5.94" height="5.26" stroke="#0000ff" fill="none"/><path d="M461.86 216.39H467.8" stroke="#ff0000"/><path d="M476.71 205.62V201.87M476.71 219.39V213.63" stroke="#000000" stroke-dasharray="2.9 3.1" fill="none"/><path d="M475.23 201.87H478.2M475.23 219.39H478.2" stroke="#000000" fill="none"/><rect x="473.74" y="205.62" width="5.94" height="8.01" stroke="#0000ff" fill="none"/><path d="M473.74 209.38H479.68" stroke="#ff0000"/><path d="M488.6 181.34V178.83M488.6 193.61V187.35" stroke="#000000" stroke-dasharray="2.9 3.1" fill="none"/><path d="M487.11 178.83H490.08M487.11 193.61H490.08" stroke="#000000" fill="none"/><rect x="485.62" y="181.34" width="5.94" height="6.01" stroke="#0000ff" fill="none"/><path d="M485.62 184.34H491.57" stroke="#ff0000"/><path d="M500.48 173.58V170.57M500.48 180.59V178.08" stroke="#000000" stroke-dasharray="2.9 3.1" fill="none"/><path d="M498.99 170.57H501.96M498.99 180.59H501.96" stroke="#000000" fill="none"/><rect x="497.51" y="173.58" width="5.94" height="4.51" stroke="#0000ff" fill="none"/><path d="M497.51 175.08H503.45" stroke="#ff0000"/><path d="M512.36 194.36V192.6M512.36 203.12V199.36" stroke="#000000" stroke-dasharray="2.9 3.1" fill="none"/><path d="M510.87 192.6H513.84M510.87 203.12H513.84" stroke="#000000" fill="none"/><rect x="509.39" y="194.36" width="5.94" height="5.01" stroke="#0000ff" fill="none"/><path d="M509.39 197.11H515.33" stroke="#ff0000"/></g><g stroke-width="1.0"><path d="M400.92 223.15H409.92M405.42 218.65V227.65" stroke="#ff0000"/><path d="M412.8 208.63H421.8M417.3 204.13V213.13" stroke="#ff0000"/><path d="M412.8 212.63H421.8M417.3 208.13V217.13" stroke="#ff0000"/><path d="M424.69 193.1H433.69M429.19 188.6V197.6" stroke="#ff0000"/><path d="M424.69 196.11H433.69M429.19 191.61V200.61" stroke="#ff0000"/><path d="M436.57 201.12H445.57M441.07 196.62V205.62" stroke="#ff0000"/><path d="M460.33 209.38H469.33M464.83 204.88V213.88" stroke="#ff0000"/></g><text x="385.8" y="255.6" text-anchor="end" font-size="9.6" fill="#333333" color="#333333">10<tspan dy="-4.6" font-size="7.2">-</tspan><tspan dx="0.5" font-size="7.2">5</tspan></text><text transform="translate(396.74,274.75) rotate(-90)" text-anchor="end" font-size="9.6" fill="#333333" color="#333333">PEOA</text><text transform="translate(408.62,274.75) rotate(-90)" text-anchor="end" font-size="9.6" fill="#333333" color="#333333">RSA</text><text transform="translate(420.5,274.75) rotate(-90)" text-anchor="end" font-size="9.6" fill="#333333" color="#333333">MPA</text><text transform="translate(432.39,274.75) rotate(-90)" text-anchor="end" font-size="9.6" fill="#333333" color="#333333">TSA</text><text transform="translate(444.27,274.75) rotate(-90)" text-anchor="end" font-size="9.6" fill="#333333" color="#333333">WOA</text><text transform="translate(456.15,274.75) rotate(-90)" text-anchor="end" font-size="9.6" fill="#333333" color="#333333">MVO</text><text transform="translate(468.03,274.75) rotate(-90)" text-anchor="end" font-size="9.6" fill="#333333" color="#333333">GWO</text><text transform="translate(479.91,274.75) rotate(-90)" text-anchor="end" font-size="9.6" fill="#333333" color="#333333">TLBO</text><text transform="translate(491.8,274.75) rotate(-90)" text-anchor="end" font-size="9.6" fill="#333333" color="#333333">GSA</text><text transform="translate(503.68,274.75) rotate(-90)" text-anchor="end" font-size="9.6" fill="#333333" color="#333333">PSO</text><text transform="translate(515.56,274.75) rotate(-90)" text-anchor="end" font-size="9.6" fill="#333333" color="#333333">GA</text><text x="452.95" y="166.9" text-anchor="middle" font-size="10.0" font-weight="bold" fill="#101010" color="#101010">F7</text><text transform="translate(366.6,221.12) rotate(-90)" text-anchor="middle" font-size="10.4" fill="#333333" color="#333333">objective function</text><text x="452.95" y="308.95" text-anchor="middle" font-size="10.4" fill="#333333" color="#333333">algorithm</text></g><g><clipPath id="cF8"><rect x="575.9" y="168.5" width="121.3" height="104.35"/></clipPath><rect x="576.5" y="169.1" width="120.1" height="103.15" fill="none" stroke="#3a3a3a"/><path d="M581.96 272.25v-1.4M581.96 169.1v1.4M592.88 272.25v-1.4M592.88 169.1v1.4M603.8 272.25v-1.4M603.8 169.1v1.4M614.71 272.25v-1.4M614.71 169.1v1.4M625.63 272.25v-1.4M625.63 169.1v1.4M636.55 272.25v-1.4M636.55 169.1v1.4M647.47 272.25v-1.4M647.47 169.1v1.4M658.39 272.25v-1.4M658.39 169.1v1.4M669.3 272.25v-1.4M669.3 169.1v1.4M680.22 272.25v-1.4M680.22 169.1v1.4M691.14 272.25v-1.4M691.14 169.1v1.4M576.5 178.85h1.4M696.6 178.85h-1.4M576.5 213.05h1.4M696.6 213.05h-1.4M576.5 233.15h1.4M696.6 233.15h-1.4M576.5 247.65h1.4M696.6 247.65h-1.4M576.5 258.25h1.4M696.6 258.25h-1.4M576.5 267.65h1.4M696.6 267.65h-1.4M576.5 178.85h1.4M696.6 178.85h-1.4M576.5 189.9h1.4M696.6 189.9h-1.4M576.5 198.92h1.4M696.6 198.92h-1.4M576.5 206.55h1.4M696.6 206.55h-1.4M576.5 213.16h1.4M696.6 213.16h-1.4M576.5 218.99h1.4M696.6 218.99h-1.4M576.5 224.21h1.4M696.6 224.21h-1.4M576.5 228.92h1.4M696.6 228.92h-1.4M576.5 233.23h1.4M696.6 233.23h-1.4M576.5 237.19h1.4M696.6 237.19h-1.4M576.5 240.86h1.4M696.6 240.86h-1.4M576.5 244.28h1.4M696.6 244.28h-1.4M576.5 247.47h1.4M696.6 247.47h-1.4M576.5 250.47h1.4M696.6 250.47h-1.4M576.5 253.3h1.4M696.6 253.3h-1.4M576.5 255.98h1.4M696.6 255.98h-1.4M576.5 258.52h1.4M696.6 258.52h-1.4M576.5 260.93h1.4M696.6 260.93h-1.4M576.5 263.24h1.4M696.6 263.24h-1.4M576.5 265.44h1.4M696.6 265.44h-1.4M576.5 267.54h1.4M696.6 267.54h-1.4M576.5 269.56h1.4M696.6 269.56h-1.4M576.5 271.5h1.4M696.6 271.5h-1.4" stroke="#3a3a3a" stroke-width="1.0" fill="none"/><g clip-path="url(#cF8)" stroke-width="1.0"><path d="M579.23 268.16H584.69" stroke="#ff0000"/><rect x="590.15" y="227.6" width="5.46" height="2.5" stroke="#0000ff" fill="none"/><path d="M590.15 228.86H595.61" stroke="#ff0000"/><path d="M603.8 256.39V255.89M603.8 259.65V258.15" stroke="#000000" stroke-dasharray="2.9 3.1" fill="none"/><path d="M602.43 255.89H605.16M602.43 259.65H605.16" stroke="#000000" fill="none"/><rect x="601.07" y="256.39" width="5.46" height="1.75" stroke="#0000ff" fill="none"/><path d="M601.07 257.15H606.52" stroke="#ff0000"/><path d="M614.71 229.61V226.85M614.71 240.12V236.37" stroke="#000000" stroke-dasharray="2.9 3.1" fill="none"/><path d="M613.35 226.85H616.08M613.35 240.12H616.08" stroke="#000000" fill="none"/><rect x="611.98" y="229.61" width="5.46" height="6.76" stroke="#0000ff" fill="none"/><path d="M611.98 233.86H617.44" stroke="#ff0000"/><path d="M625.63 253.39V242.12M625.63 270.16V269.41" stroke="#000000" stroke-dasharray="2.9 3.1" fill="none"/><path d="M624.27 242.12H627M624.27 270.16H627" stroke="#000000" fill="none"/><rect x="622.9" y="253.39" width="5.46" height="16.02" stroke="#0000ff" fill="none"/><path d="M622.9 265.16H628.36" stroke="#ff0000"/><path d="M636.55 244.38V238.87M636.55 254.39V250.89" stroke="#000000" stroke-dasharray="2.9 3.1" fill="none"/><path d="M635.19 238.87H637.91M635.19 254.39H637.91" stroke="#000000" fill="none"/><rect x="633.82" y="244.38" width="5.46" height="6.51" stroke="#0000ff" fill="none"/><path d="M633.82 248.13H639.28" stroke="#ff0000"/><path d="M647.47 230.11V226.85M647.47 245.63V236.87" stroke="#000000" stroke-dasharray="2.9 3.1" fill="none"/><path d="M646.1 226.85H648.83M646.1 245.63H648.83" stroke="#000000" fill="none"/><rect x="644.74" y="230.11" width="5.46" height="6.76" stroke="#0000ff" fill="none"/><path d="M644.74 234.61H650.2" stroke="#ff0000"/><path d="M658.39 220.59V217.09M658.39 231.86V229.36" stroke="#000000" stroke-dasharray="2.9 3.1" fill="none"/><path d="M657.02 217.09H659.75M657.02 231.86H659.75" stroke="#000000" fill="none"/><rect x="655.66" y="220.59" width="5.46" height="8.76" stroke="#0000ff" fill="none"/><path d="M655.66 225.1H661.12" stroke="#ff0000"/><path d="M669.3 184.54V183.29M669.3 207.58V200.82" stroke="#000000" stroke-dasharray="2.9 3.1" fill="none"/><path d="M667.94 183.29H670.67M667.94 207.58H670.67" stroke="#000000" fill="none"/><rect x="666.57" y="184.54" width="5.46" height="16.27" stroke="#0000ff" fill="none"/><path d="M666.57 193.81H672.03" stroke="#ff0000"/><path d="M680.22 233.11V226.35M680.22 245.63V240.62" stroke="#000000" stroke-dasharray="2.9 3.1" fill="none"/><path d="M678.86 226.35H681.59M678.86 245.63H681.59" stroke="#000000" fill="none"/><rect x="677.49" y="233.11" width="5.46" height="7.51" stroke="#0000ff" fill="none"/><path d="M677.49 236.37H682.95" stroke="#ff0000"/><path d="M691.14 248.38V244.38M691.14 256.39V254.39" stroke="#000000" stroke-dasharray="2.9 3.1" fill="none"/><path d="M689.78 244.38H692.51M689.78 256.39H692.51" stroke="#000000" fill="none"/><rect x="688.41" y="248.38" width="5.46" height="6.01" stroke="#0000ff" fill="none"/><path d="M688.41 250.39H693.87" stroke="#ff0000"/></g><g stroke-width="1.0"><path d="M577.46 253.39H586.46M581.96 248.89V257.89" stroke="#ff0000"/><path d="M577.46 267.66H586.46M581.96 263.16V272.16" stroke="#ff0000"/><path d="M577.46 268.91H586.46M581.96 264.41V273.41" stroke="#ff0000"/><path d="M599.3 253.14H608.3M603.8 248.64V257.64" stroke="#ff0000"/><path d="M610.21 245.63H619.21M614.71 241.13V250.13" stroke="#ff0000"/><path d="M642.97 199.56H651.97M647.47 195.06V204.06" stroke="#ff0000"/><path d="M653.89 244.63H662.89M658.39 240.13V249.13" stroke="#ff0000"/></g><text x="574.7" y="182.35" text-anchor="end" font-size="9.6" fill="#333333" color="#333333">-2000</text><text x="574.7" y="216.55" text-anchor="end" font-size="9.6" fill="#333333" color="#333333">-4000</text><text x="574.7" y="236.65" text-anchor="end" font-size="9.6" fill="#333333" color="#333333">-6000</text><text x="574.7" y="251.15" text-anchor="end" font-size="9.6" fill="#333333" color="#333333">-8000</text><text x="574.7" y="261.75" text-anchor="end" font-size="9.6" fill="#333333" color="#333333">-10000</text><text x="574.7" y="271.15" text-anchor="end" font-size="9.6" fill="#333333" color="#333333">-12000</text><text transform="translate(585.16,274.75) rotate(-90)" text-anchor="end" font-size="9.6" fill="#333333" color="#333333">PEOA</text><text transform="translate(596.08,274.75) rotate(-90)" text-anchor="end" font-size="9.6" fill="#333333" color="#333333">RSA</text><text transform="translate(607,274.75) rotate(-90)" text-anchor="end" font-size="9.6" fill="#333333" color="#333333">MPA</text><text transform="translate(617.91,274.75) rotate(-90)" text-anchor="end" font-size="9.6" fill="#333333" color="#333333">TSA</text><text transform="translate(628.83,274.75) rotate(-90)" text-anchor="end" font-size="9.6" fill="#333333" color="#333333">WOA</text><text transform="translate(639.75,274.75) rotate(-90)" text-anchor="end" font-size="9.6" fill="#333333" color="#333333">MVO</text><text transform="translate(650.67,274.75) rotate(-90)" text-anchor="end" font-size="9.6" fill="#333333" color="#333333">GWO</text><text transform="translate(661.59,274.75) rotate(-90)" text-anchor="end" font-size="9.6" fill="#333333" color="#333333">TLBO</text><text transform="translate(672.5,274.75) rotate(-90)" text-anchor="end" font-size="9.6" fill="#333333" color="#333333">GSA</text><text transform="translate(683.42,274.75) rotate(-90)" text-anchor="end" font-size="9.6" fill="#333333" color="#333333">PSO</text><text transform="translate(694.34,274.75) rotate(-90)" text-anchor="end" font-size="9.6" fill="#333333" color="#333333">GA</text><text x="636.55" y="166.9" text-anchor="middle" font-size="10.0" font-weight="bold" fill="#101010" color="#101010">F8</text><text transform="translate(544.7,221.12) rotate(-90)" text-anchor="middle" font-size="10.4" fill="#333333" color="#333333">objective function</text><text x="636.55" y="308.95" text-anchor="middle" font-size="10.4" fill="#333333" color="#333333">algorithm</text></g><g><clipPath id="cF9"><rect x="29.2" y="323.6" width="133.7" height="104.35"/></clipPath><rect x="29.8" y="324.2" width="132.5" height="103.15" fill="none" stroke="#3a3a3a"/><path d="M35.82 427.35v-1.4M35.82 324.2v1.4M47.87 427.35v-1.4M47.87 324.2v1.4M59.91 427.35v-1.4M59.91 324.2v1.4M71.96 427.35v-1.4M71.96 324.2v1.4M84 427.35v-1.4M84 324.2v1.4M96.05 427.35v-1.4M96.05 324.2v1.4M108.1 427.35v-1.4M108.1 324.2v1.4M120.14 427.35v-1.4M120.14 324.2v1.4M132.19 427.35v-1.4M132.19 324.2v1.4M144.23 427.35v-1.4M144.23 324.2v1.4M156.28 427.35v-1.4M156.28 324.2v1.4M29.8 340.5h1.4M162.3 340.5h-1.4M29.8 361.02h1.4M162.3 361.02h-1.4M29.8 381.55h1.4M162.3 381.55h-1.4M29.8 402.08h1.4M162.3 402.08h-1.4M29.8 422.6h1.4M162.3 422.6h-1.4" stroke="#3a3a3a" stroke-width="1.0" fill="none"/><g clip-path="url(#cF9)" stroke-width="1.0"><path d="M32.81 422.41H38.83" stroke="#ff0000"/><path d="M44.86 422.41H50.88" stroke="#ff0000"/><path d="M56.9 422.41H62.92" stroke="#ff0000"/><path d="M71.96 346.3V328.03M71.96 388.11V372.59" stroke="#000000" stroke-dasharray="2.9 3.1" fill="none"/><path d="M70.45 328.03H73.46M70.45 388.11H73.46" stroke="#000000" fill="none"/><rect x="68.95" y="346.3" width="6.02" height="26.29" stroke="#0000ff" fill="none"/><path d="M68.95 354.31H74.97" stroke="#ff0000"/><path d="M80.99 422.41H87.02" stroke="#ff0000"/><path d="M96.05 368.83V356.32M96.05 405.64V384.36" stroke="#000000" stroke-dasharray="2.9 3.1" fill="none"/><path d="M94.54 356.32H97.56M94.54 405.64H97.56" stroke="#000000" fill="none"/><rect x="93.04" y="368.83" width="6.02" height="15.52" stroke="#0000ff" fill="none"/><path d="M93.04 377.1H99.06" stroke="#ff0000"/><path d="M105.08 421.91H111.11" stroke="#ff0000"/><path d="M117.13 422.66H123.15" stroke="#ff0000"/><path d="M132.19 409.64V407.64M132.19 417.15V413.15" stroke="#000000" stroke-dasharray="2.9 3.1" fill="none"/><path d="M130.68 407.64H133.69M130.68 417.15H133.69" stroke="#000000" fill="none"/><rect x="129.18" y="409.64" width="6.02" height="3.51" stroke="#0000ff" fill="none"/><path d="M129.18 411.39H135.2" stroke="#ff0000"/><path d="M144.23 393.37V383.86M144.23 412.65V401.38" stroke="#000000" stroke-dasharray="2.9 3.1" fill="none"/><path d="M142.73 383.86H145.74M142.73 412.65H145.74" stroke="#000000" fill="none"/><rect x="141.22" y="393.37" width="6.02" height="8.01" stroke="#0000ff" fill="none"/><path d="M141.22 395.12H147.24" stroke="#ff0000"/><path d="M156.28 395.87V387.61M156.28 410.89V405.64" stroke="#000000" stroke-dasharray="2.9 3.1" fill="none"/><path d="M154.77 387.61H157.78M154.77 410.89H157.78" stroke="#000000" fill="none"/><rect x="153.27" y="395.87" width="6.02" height="9.76" stroke="#0000ff" fill="none"/><path d="M153.27 400.13H159.29" stroke="#ff0000"/></g><g stroke-width="1.0"><path d="M103.6 417.9H112.6M108.1 413.4V422.4" stroke="#ff0000"/><path d="M103.6 421.91H112.6M108.1 417.41V426.41" stroke="#ff0000"/></g><text x="28" y="344" text-anchor="end" font-size="9.6" fill="#333333" color="#333333">200</text><text x="28" y="364.52" text-anchor="end" font-size="9.6" fill="#333333" color="#333333">150</text><text x="28" y="385.05" text-anchor="end" font-size="9.6" fill="#333333" color="#333333">100</text><text x="28" y="405.58" text-anchor="end" font-size="9.6" fill="#333333" color="#333333">50</text><text x="28" y="426.1" text-anchor="end" font-size="9.6" fill="#333333" color="#333333">0</text><text transform="translate(39.02,429.85) rotate(-90)" text-anchor="end" font-size="9.6" fill="#333333" color="#333333">PEOA</text><text transform="translate(51.07,429.85) rotate(-90)" text-anchor="end" font-size="9.6" fill="#333333" color="#333333">RSA</text><text transform="translate(63.11,429.85) rotate(-90)" text-anchor="end" font-size="9.6" fill="#333333" color="#333333">MPA</text><text transform="translate(75.16,429.85) rotate(-90)" text-anchor="end" font-size="9.6" fill="#333333" color="#333333">TSA</text><text transform="translate(87.2,429.85) rotate(-90)" text-anchor="end" font-size="9.6" fill="#333333" color="#333333">WOA</text><text transform="translate(99.25,429.85) rotate(-90)" text-anchor="end" font-size="9.6" fill="#333333" color="#333333">MVO</text><text transform="translate(111.3,429.85) rotate(-90)" text-anchor="end" font-size="9.6" fill="#333333" color="#333333">GWO</text><text transform="translate(123.34,429.85) rotate(-90)" text-anchor="end" font-size="9.6" fill="#333333" color="#333333">TLBO</text><text transform="translate(135.39,429.85) rotate(-90)" text-anchor="end" font-size="9.6" fill="#333333" color="#333333">GSA</text><text transform="translate(147.43,429.85) rotate(-90)" text-anchor="end" font-size="9.6" fill="#333333" color="#333333">PSO</text><text transform="translate(159.48,429.85) rotate(-90)" text-anchor="end" font-size="9.6" fill="#333333" color="#333333">GA</text><text x="96.05" y="322" text-anchor="middle" font-size="10.0" font-weight="bold" fill="#101010" color="#101010">F9</text><text transform="translate(10.3,376.22) rotate(-90)" text-anchor="middle" font-size="10.4" fill="#333333" color="#333333">objective function</text><text x="96.05" y="464.05" text-anchor="middle" font-size="10.4" fill="#333333" color="#333333">algorithm</text></g><g><clipPath id="cF10"><rect x="213.3" y="323.6" width="127.6" height="104.35"/></clipPath><rect x="213.9" y="324.2" width="126.4" height="103.15" fill="none" stroke="#3a3a3a"/><path d="M219.65 427.35v-1.4M219.65 324.2v1.4M231.14 427.35v-1.4M231.14 324.2v1.4M242.63 427.35v-1.4M242.63 324.2v1.4M254.12 427.35v-1.4M254.12 324.2v1.4M265.61 427.35v-1.4M265.61 324.2v1.4M277.1 427.35v-1.4M277.1 324.2v1.4M288.59 427.35v-1.4M288.59 324.2v1.4M300.08 427.35v-1.4M300.08 324.2v1.4M311.57 427.35v-1.4M311.57 324.2v1.4M323.06 427.35v-1.4M323.06 324.2v1.4M334.55 427.35v-1.4M334.55 324.2v1.4M213.9 329h1.4M340.3 329h-1.4M213.9 361.7h1.4M340.3 361.7h-1.4M213.9 394.4h1.4M340.3 394.4h-1.4" stroke="#3a3a3a" stroke-width="1.0" fill="none"/><g clip-path="url(#cF10)" stroke-width="1.0"><path d="M216.77 426.92H222.52" stroke="#ff0000"/><path d="M228.26 426.92H234.01" stroke="#ff0000"/><path d="M239.75 423.16H245.5" stroke="#ff0000"/><path d="M254.12 325.27V325.02M254.12 421.16V328.28" stroke="#000000" stroke-dasharray="2.9 3.1" fill="none"/><path d="M252.68 325.02H255.55M252.68 421.16H255.55" stroke="#000000" fill="none"/><rect x="251.25" y="325.27" width="5.75" height="3" stroke="#0000ff" fill="none"/><path d="M251.25 326.27H256.99" stroke="#ff0000"/><path d="M265.61 423.16V421.66M265.61 427.67V427.67" stroke="#000000" stroke-dasharray="2.9 3.1" fill="none"/><path d="M264.17 421.66H267.05M264.17 427.67H267.05" stroke="#000000" fill="none"/><rect x="262.74" y="423.16" width="5.75" height="4.51" stroke="#0000ff" fill="none"/><path d="M262.74 427.67H268.48" stroke="#ff0000"/><path d="M277.1 327.27V326.27M277.1 335.04V335.04" stroke="#000000" stroke-dasharray="2.9 3.1" fill="none"/><path d="M275.66 326.27H278.54M275.66 335.04H278.54" stroke="#000000" fill="none"/><rect x="274.23" y="327.27" width="5.75" height="7.76" stroke="#0000ff" fill="none"/><path d="M274.23 334.28H279.97" stroke="#ff0000"/><path d="M285.72 419.41H291.46" stroke="#ff0000"/><path d="M297.21 423.16H302.95" stroke="#ff0000"/><rect x="308.7" y="381.6" width="5.75" height="1" stroke="#0000ff" fill="none"/><path d="M308.7 382.1H314.45" stroke="#ff0000"/><path d="M323.06 324.27V324.27M323.06 327.27V326.27" stroke="#000000" stroke-dasharray="2.9 3.1" fill="none"/><path d="M321.63 324.27H324.5M321.63 327.27H324.5" stroke="#000000" fill="none"/><rect x="320.19" y="324.27" width="5.75" height="2" stroke="#0000ff" fill="none"/><path d="M320.19 325.27H325.94" stroke="#ff0000"/><rect x="331.68" y="324.02" width="5.75" height="1.75" stroke="#0000ff" fill="none"/><path d="M331.68 325.02H337.43" stroke="#ff0000"/></g><g stroke-width="1.0"><path d="M238.13 427.17H247.13M242.63 422.67V431.67" stroke="#ff0000"/><path d="M284.09 419.41H293.09M288.59 414.91V423.91" stroke="#ff0000"/><path d="M295.58 427.17H304.58M300.08 422.67V431.67" stroke="#ff0000"/></g><text x="212.1" y="333.9" text-anchor="end" font-size="9.6" fill="#333333" color="#333333">10<tspan dy="-4.6" font-size="7.2">0</tspan></text><text x="212.1" y="399.3" text-anchor="end" font-size="9.6" fill="#333333" color="#333333">10<tspan dy="-4.6" font-size="7.2">-</tspan><tspan dx="0.5" font-size="7.2">10</tspan></text><text transform="translate(222.85,429.85) rotate(-90)" text-anchor="end" font-size="9.6" fill="#333333" color="#333333">PEOA</text><text transform="translate(234.34,429.85) rotate(-90)" text-anchor="end" font-size="9.6" fill="#333333" color="#333333">RSA</text><text transform="translate(245.83,429.85) rotate(-90)" text-anchor="end" font-size="9.6" fill="#333333" color="#333333">MPA</text><text transform="translate(257.32,429.85) rotate(-90)" text-anchor="end" font-size="9.6" fill="#333333" color="#333333">TSA</text><text transform="translate(268.81,429.85) rotate(-90)" text-anchor="end" font-size="9.6" fill="#333333" color="#333333">WOA</text><text transform="translate(280.3,429.85) rotate(-90)" text-anchor="end" font-size="9.6" fill="#333333" color="#333333">MVO</text><text transform="translate(291.79,429.85) rotate(-90)" text-anchor="end" font-size="9.6" fill="#333333" color="#333333">GWO</text><text transform="translate(303.28,429.85) rotate(-90)" text-anchor="end" font-size="9.6" fill="#333333" color="#333333">TLBO</text><text transform="translate(314.77,429.85) rotate(-90)" text-anchor="end" font-size="9.6" fill="#333333" color="#333333">GSA</text><text transform="translate(326.26,429.85) rotate(-90)" text-anchor="end" font-size="9.6" fill="#333333" color="#333333">PSO</text><text transform="translate(337.75,429.85) rotate(-90)" text-anchor="end" font-size="9.6" fill="#333333" color="#333333">GA</text><text x="277.1" y="322" text-anchor="middle" font-size="10.0" font-weight="bold" fill="#101010" color="#101010">F10</text><text transform="translate(188.4,376.22) rotate(-90)" text-anchor="middle" font-size="10.4" fill="#333333" color="#333333">objective function</text><text x="277.1" y="464.05" text-anchor="middle" font-size="10.4" fill="#333333" color="#333333">algorithm</text></g><g><clipPath id="cF11"><rect x="380.8" y="323.6" width="138" height="104.35"/></clipPath><rect x="381.4" y="324.2" width="136.8" height="103.15" fill="none" stroke="#3a3a3a"/><path d="M387.62 427.35v-1.4M387.62 324.2v1.4M400.05 427.35v-1.4M400.05 324.2v1.4M412.49 427.35v-1.4M412.49 324.2v1.4M424.93 427.35v-1.4M424.93 324.2v1.4M437.36 427.35v-1.4M437.36 324.2v1.4M449.8 427.35v-1.4M449.8 324.2v1.4M462.24 427.35v-1.4M462.24 324.2v1.4M474.67 427.35v-1.4M474.67 324.2v1.4M487.11 427.35v-1.4M487.11 324.2v1.4M499.55 427.35v-1.4M499.55 324.2v1.4M511.98 427.35v-1.4M511.98 324.2v1.4M381.4 355.65h1.4M518.2 355.65h-1.4M381.4 389.05h1.4M518.2 389.05h-1.4M381.4 422.45h1.4M518.2 422.45h-1.4" stroke="#3a3a3a" stroke-width="1.0" fill="none"/><g clip-path="url(#cF11)" stroke-width="1.0"><path d="M384.51 422.41H390.73" stroke="#ff0000"/><path d="M396.95 422.41H403.16" stroke="#ff0000"/><path d="M409.38 422.41H415.6" stroke="#ff0000"/><path d="M421.82 422.41H428.04" stroke="#ff0000"/><path d="M434.25 422.41H440.47" stroke="#ff0000"/><rect x="446.69" y="419.66" width="6.22" height="1" stroke="#0000ff" fill="none"/><path d="M446.69 420.16H452.91" stroke="#ff0000"/><path d="M459.13 422.41H465.35" stroke="#ff0000"/><path d="M471.56 422.41H477.78" stroke="#ff0000"/><path d="M487.11 356.32V328.78M487.11 398.13V385.61" stroke="#000000" stroke-dasharray="2.9 3.1" fill="none"/><path d="M485.55 328.78H488.66M485.55 398.13H488.66" stroke="#000000" fill="none"/><rect x="484" y="356.32" width="6.22" height="29.29" stroke="#0000ff" fill="none"/><path d="M484 370.59H490.22" stroke="#ff0000"/><rect x="496.44" y="421.16" width="6.22" height="1" stroke="#0000ff" fill="none"/><path d="M496.44 421.66H502.65" stroke="#ff0000"/><path d="M511.98 411.65V411.14M511.98 414.15V413.65" stroke="#000000" stroke-dasharray="2.9 3.1" fill="none"/><path d="M510.43 411.14H513.54M510.43 414.15H513.54" stroke="#000000" fill="none"/><rect x="508.87" y="411.65" width="6.22" height="2" stroke="#0000ff" fill="none"/><path d="M508.87 412.65H515.09" stroke="#ff0000"/></g><g stroke-width="1.0"><path d="M432.86 421.91H441.86M437.36 417.41V426.41" stroke="#ff0000"/><path d="M432.86 422.91H441.86M437.36 418.41V427.41" stroke="#ff0000"/><path d="M457.74 422.41H466.74M462.24 417.91V426.91" stroke="#ff0000"/><path d="M495.05 420.16H504.05M499.55 415.66V424.66" stroke="#ff0000"/></g><text x="379.6" y="359.15" text-anchor="end" font-size="9.6" fill="#333333" color="#333333">10</text><text x="379.6" y="392.55" text-anchor="end" font-size="9.6" fill="#333333" color="#333333">5</text><text x="379.6" y="425.95" text-anchor="end" font-size="9.6" fill="#333333" color="#333333">0</text><text transform="translate(390.82,429.85) rotate(-90)" text-anchor="end" font-size="9.6" fill="#333333" color="#333333">PEOA</text><text transform="translate(403.25,429.85) rotate(-90)" text-anchor="end" font-size="9.6" fill="#333333" color="#333333">RSA</text><text transform="translate(415.69,429.85) rotate(-90)" text-anchor="end" font-size="9.6" fill="#333333" color="#333333">MPA</text><text transform="translate(428.13,429.85) rotate(-90)" text-anchor="end" font-size="9.6" fill="#333333" color="#333333">TSA</text><text transform="translate(440.56,429.85) rotate(-90)" text-anchor="end" font-size="9.6" fill="#333333" color="#333333">WOA</text><text transform="translate(453,429.85) rotate(-90)" text-anchor="end" font-size="9.6" fill="#333333" color="#333333">MVO</text><text transform="translate(465.44,429.85) rotate(-90)" text-anchor="end" font-size="9.6" fill="#333333" color="#333333">GWO</text><text transform="translate(477.87,429.85) rotate(-90)" text-anchor="end" font-size="9.6" fill="#333333" color="#333333">TLBO</text><text transform="translate(490.31,429.85) rotate(-90)" text-anchor="end" font-size="9.6" fill="#333333" color="#333333">GSA</text><text transform="translate(502.75,429.85) rotate(-90)" text-anchor="end" font-size="9.6" fill="#333333" color="#333333">PSO</text><text transform="translate(515.18,429.85) rotate(-90)" text-anchor="end" font-size="9.6" fill="#333333" color="#333333">GA</text><text x="449.8" y="322" text-anchor="middle" font-size="10.0" font-weight="bold" fill="#101010" color="#101010">F11</text><text transform="translate(366.6,376.22) rotate(-90)" text-anchor="middle" font-size="10.4" fill="#333333" color="#333333">objective function</text><text x="449.8" y="464.05" text-anchor="middle" font-size="10.4" fill="#333333" color="#333333">algorithm</text></g><g><clipPath id="cF12"><rect x="569" y="323.6" width="127.9" height="104.35"/></clipPath><rect x="569.6" y="324.2" width="126.7" height="103.15" fill="none" stroke="#3a3a3a"/><path d="M575.36 427.35v-1.4M575.36 324.2v1.4M586.88 427.35v-1.4M586.88 324.2v1.4M598.4 427.35v-1.4M598.4 324.2v1.4M609.91 427.35v-1.4M609.91 324.2v1.4M621.43 427.35v-1.4M621.43 324.2v1.4M632.95 427.35v-1.4M632.95 324.2v1.4M644.47 427.35v-1.4M644.47 324.2v1.4M655.99 427.35v-1.4M655.99 324.2v1.4M667.5 427.35v-1.4M667.5 324.2v1.4M679.02 427.35v-1.4M679.02 324.2v1.4M690.54 427.35v-1.4M690.54 324.2v1.4M569.6 329.95h1.4M696.3 329.95h-1.4M569.6 355.85h1.4M696.3 355.85h-1.4M569.6 381.95h1.4M696.3 381.95h-1.4M569.6 408.15h1.4M696.3 408.15h-1.4" stroke="#3a3a3a" stroke-width="1.0" fill="none"/><g clip-path="url(#cF12)" stroke-width="1.0"><path d="M575.36 368.33V367.58M575.36 378.85V373.84" stroke="#000000" stroke-dasharray="2.9 3.1" fill="none"/><path d="M573.92 367.58H576.8M573.92 378.85H576.8" stroke="#000000" fill="none"/><rect x="572.48" y="368.33" width="5.76" height="5.51" stroke="#0000ff" fill="none"/><path d="M572.48 370.84H578.24" stroke="#ff0000"/><rect x="584" y="329.53" width="5.76" height="1.75" stroke="#0000ff" fill="none"/><path d="M584 330.28H589.76" stroke="#ff0000"/><path d="M598.4 365.08V364.58M598.4 368.08V367.08" stroke="#000000" stroke-dasharray="2.9 3.1" fill="none"/><path d="M596.96 364.58H599.84M596.96 368.08H599.84" stroke="#000000" fill="none"/><rect x="595.52" y="365.08" width="5.76" height="2" stroke="#0000ff" fill="none"/><path d="M595.52 366.08H601.27" stroke="#ff0000"/><path d="M609.91 324.52V324.27M609.91 330.03V327.53" stroke="#000000" stroke-dasharray="2.9 3.1" fill="none"/><path d="M608.47 324.27H611.35M608.47 330.03H611.35" stroke="#000000" fill="none"/><rect x="607.03" y="324.52" width="5.76" height="3" stroke="#0000ff" fill="none"/><path d="M607.03 325.77H612.79" stroke="#ff0000"/><path d="M621.43 341.04V339.54M621.43 346.55V344.55" stroke="#000000" stroke-dasharray="2.9 3.1" fill="none"/><path d="M619.99 339.54H622.87M619.99 346.55H622.87" stroke="#000000" fill="none"/><rect x="618.55" y="341.04" width="5.76" height="3.51" stroke="#0000ff" fill="none"/><path d="M618.55 343.05H624.31" stroke="#ff0000"/><path d="M632.95 330.53V330.03M632.95 347.05V342.05" stroke="#000000" stroke-dasharray="2.9 3.1" fill="none"/><path d="M631.51 330.03H634.39M631.51 347.05H634.39" stroke="#000000" fill="none"/><rect x="630.07" y="330.53" width="5.76" height="11.52" stroke="#0000ff" fill="none"/><path d="M630.07 333.03H635.83" stroke="#ff0000"/><path d="M644.47 337.54V337.04M644.47 342.05V339.54" stroke="#000000" stroke-dasharray="2.9 3.1" fill="none"/><path d="M643.03 337.04H645.91M643.03 342.05H645.91" stroke="#000000" fill="none"/><rect x="641.59" y="337.54" width="5.76" height="2" stroke="#0000ff" fill="none"/><path d="M641.59 338.54H647.35" stroke="#ff0000"/><rect x="653.11" y="336.04" width="5.76" height="1.5" stroke="#0000ff" fill="none"/><path d="M653.11 336.79H658.87" stroke="#ff0000"/><rect x="664.62" y="334.28" width="5.76" height="91.38" stroke="#0000ff" fill="none"/><path d="M664.62 335.04H670.38" stroke="#ff0000"/><path d="M679.02 330.03V329.53M679.02 353.81V332.53" stroke="#000000" stroke-dasharray="2.9 3.1" fill="none"/><path d="M677.58 329.53H680.46M677.58 353.81H680.46" stroke="#000000" fill="none"/><rect x="676.14" y="330.03" width="5.76" height="2.5" stroke="#0000ff" fill="none"/><path d="M676.14 331.03H681.9" stroke="#ff0000"/><path d="M690.54 333.78V332.53M690.54 338.04V336.29" stroke="#000000" stroke-dasharray="2.9 3.1" fill="none"/><path d="M689.1 332.53H691.98M689.1 338.04H691.98" stroke="#000000" fill="none"/><rect x="687.66" y="333.78" width="5.76" height="2.5" stroke="#0000ff" fill="none"/><path d="M687.66 335.04H693.42" stroke="#ff0000"/></g><g stroke-width="1.0"><path d="M570.86 365.58H579.86M575.36 361.08V370.08" stroke="#ff0000"/><path d="M616.93 334.79H625.93M621.43 330.29V339.29" stroke="#ff0000"/><path d="M616.93 337.29H625.93M621.43 332.79V341.79" stroke="#ff0000"/><path d="M628.45 328.28H637.45M632.95 323.78V332.78" stroke="#ff0000"/><path d="M651.49 335.04H660.49M655.99 330.54V339.54" stroke="#ff0000"/><path d="M651.49 336.54H660.49M655.99 332.04V341.04" stroke="#ff0000"/><path d="M651.49 338.04H660.49M655.99 333.54V342.54" stroke="#ff0000"/><path d="M663 331.28H672M667.5 326.78V335.78" stroke="#ff0000"/><path d="M674.52 327.53H683.52M679.02 323.03V332.03" stroke="#ff0000"/><path d="M674.52 328.28H683.52M679.02 323.78V332.78" stroke="#ff0000"/><path d="M686.04 332.03H695.04M690.54 327.53V336.53" stroke="#ff0000"/></g><text x="567.8" y="334.85" text-anchor="end" font-size="9.6" fill="#333333" color="#333333">10<tspan dy="-4.6" font-size="7.2">0</tspan></text><text x="567.8" y="386.85" text-anchor="end" font-size="9.6" fill="#333333" color="#333333">10<tspan dy="-4.6" font-size="7.2">-</tspan><tspan dx="0.5" font-size="7.2">10</tspan></text><text transform="translate(578.56,429.85) rotate(-90)" text-anchor="end" font-size="9.6" fill="#333333" color="#333333">PEOA</text><text transform="translate(590.08,429.85) rotate(-90)" text-anchor="end" font-size="9.6" fill="#333333" color="#333333">RSA</text><text transform="translate(601.6,429.85) rotate(-90)" text-anchor="end" font-size="9.6" fill="#333333" color="#333333">MPA</text><text transform="translate(613.11,429.85) rotate(-90)" text-anchor="end" font-size="9.6" fill="#333333" color="#333333">TSA</text><text transform="translate(624.63,429.85) rotate(-90)" text-anchor="end" font-size="9.6" fill="#333333" color="#333333">WOA</text><text transform="translate(636.15,429.85) rotate(-90)" text-anchor="end" font-size="9.6" fill="#333333" color="#333333">MVO</text><text transform="translate(647.67,429.85) rotate(-90)" text-anchor="end" font-size="9.6" fill="#333333" color="#333333">GWO</text><text transform="translate(659.19,429.85) rotate(-90)" text-anchor="end" font-size="9.6" fill="#333333" color="#333333">TLBO</text><text transform="translate(670.7,429.85) rotate(-90)" text-anchor="end" font-size="9.6" fill="#333333" color="#333333">GSA</text><text transform="translate(682.22,429.85) rotate(-90)" text-anchor="end" font-size="9.6" fill="#333333" color="#333333">PSO</text><text transform="translate(693.74,429.85) rotate(-90)" text-anchor="end" font-size="9.6" fill="#333333" color="#333333">GA</text><text x="632.95" y="322" text-anchor="middle" font-size="10.0" font-weight="bold" fill="#101010" color="#101010">F12</text><text transform="translate(544.7,376.22) rotate(-90)" text-anchor="middle" font-size="10.4" fill="#333333" color="#333333">objective function</text><text x="632.95" y="464.05" text-anchor="middle" font-size="10.4" fill="#333333" color="#333333">algorithm</text></g><g><clipPath id="cF13"><rect x="35" y="478.7" width="127.9" height="104.35"/></clipPath><rect x="35.6" y="479.3" width="126.7" height="103.15" fill="none" stroke="#3a3a3a"/><path d="M41.36 582.45v-1.4M41.36 479.3v1.4M52.88 582.45v-1.4M52.88 479.3v1.4M64.4 582.45v-1.4M64.4 479.3v1.4M75.91 582.45v-1.4M75.91 479.3v1.4M87.43 582.45v-1.4M87.43 479.3v1.4M98.95 582.45v-1.4M98.95 479.3v1.4M110.47 582.45v-1.4M110.47 479.3v1.4M121.99 582.45v-1.4M121.99 479.3v1.4M133.5 582.45v-1.4M133.5 479.3v1.4M145.02 582.45v-1.4M145.02 479.3v1.4M156.54 582.45v-1.4M156.54 479.3v1.4M35.6 483.85h1.4M162.3 483.85h-1.4M35.6 500.15h1.4M162.3 500.15h-1.4M35.6 516.45h1.4M162.3 516.45h-1.4M35.6 532.65h1.4M162.3 532.65h-1.4M35.6 548.95h1.4M162.3 548.95h-1.4M35.6 565.25h1.4M162.3 565.25h-1.4" stroke="#3a3a3a" stroke-width="1.0" fill="none"/><g clip-path="url(#cF13)" stroke-width="1.0"><path d="M41.36 504.56V503.81M41.36 516.32V509.56" stroke="#000000" stroke-dasharray="2.9 3.1" fill="none"/><path d="M39.92 503.81H42.8M39.92 516.32H42.8" stroke="#000000" fill="none"/><rect x="38.48" y="504.56" width="5.76" height="5.01" stroke="#0000ff" fill="none"/><path d="M38.48 507.06H44.24" stroke="#ff0000"/><rect x="50" y="577.66" width="5.76" height="5.01" stroke="#0000ff" fill="none"/><path d="M50 581.42H55.76" stroke="#ff0000"/><rect x="61.52" y="490.79" width="5.76" height="20.53" stroke="#0000ff" fill="none"/><path d="M61.52 511.32H67.28" stroke="#ff0000"/><rect x="73.03" y="481.27" width="5.76" height="1.25" stroke="#0000ff" fill="none"/><path d="M73.03 482.02H78.79" stroke="#ff0000"/><path d="M87.43 484.53V483.78M87.43 489.54V487.53" stroke="#000000" stroke-dasharray="2.9 3.1" fill="none"/><path d="M85.99 483.78H88.87M85.99 489.54H88.87" stroke="#000000" fill="none"/><rect x="84.55" y="484.53" width="5.76" height="3" stroke="#0000ff" fill="none"/><path d="M84.55 486.28H90.31" stroke="#ff0000"/><rect x="96.07" y="487.53" width="5.76" height="1.5" stroke="#0000ff" fill="none"/><path d="M96.07 488.28H101.83" stroke="#ff0000"/><rect x="107.59" y="483.78" width="5.76" height="1.25" stroke="#0000ff" fill="none"/><path d="M107.59 484.28H113.35" stroke="#ff0000"/><rect x="119.11" y="483.03" width="5.76" height="0.75" stroke="#0000ff" fill="none"/><path d="M119.11 483.28H124.87" stroke="#ff0000"/><rect x="130.63" y="490.04" width="5.76" height="49.32" stroke="#0000ff" fill="none"/><path d="M130.63 539.36H136.38" stroke="#ff0000"/><path d="M145.02 480.52V480.02M145.02 487.91V482.4" stroke="#000000" stroke-dasharray="2.9 3.1" fill="none"/><path d="M143.58 480.02H146.46M143.58 487.91H146.46" stroke="#000000" fill="none"/><rect x="142.14" y="480.52" width="5.76" height="1.88" stroke="#0000ff" fill="none"/><path d="M142.14 481.27H147.9" stroke="#ff0000"/><rect x="153.66" y="480.52" width="5.76" height="2" stroke="#0000ff" fill="none"/><path d="M153.66 481.52H159.42" stroke="#ff0000"/></g><g stroke-width="1.0"><path d="M36.86 500.8H45.86M41.36 496.3V505.3" stroke="#ff0000"/><path d="M36.86 502.55H45.86M41.36 498.05V507.05" stroke="#ff0000"/><path d="M48.38 482.02H57.38M52.88 477.52V486.52" stroke="#ff0000"/><path d="M48.38 568.9H57.38M52.88 564.4V573.4" stroke="#ff0000"/><path d="M59.9 489.54H68.9M64.4 485.04V494.04" stroke="#ff0000"/><path d="M129 487.03H138M133.5 482.53V491.53" stroke="#ff0000"/><path d="M129 487.53H138M133.5 483.03V492.03" stroke="#ff0000"/><path d="M140.52 479.65H149.52M145.02 475.15V484.15" stroke="#ff0000"/><path d="M152.04 481.02H161.04M156.54 476.52V485.52" stroke="#ff0000"/><path d="M152.04 481.52H161.04M156.54 477.02V486.02" stroke="#ff0000"/></g><text x="33.8" y="488.75" text-anchor="end" font-size="9.6" fill="#333333" color="#333333">10<tspan dy="-4.6" font-size="7.2">0</tspan></text><text x="33.8" y="553.85" text-anchor="end" font-size="9.6" fill="#333333" color="#333333">10<tspan dy="-4.6" font-size="7.2">-</tspan><tspan dx="0.5" font-size="7.2">20</tspan></text><text transform="translate(44.56,584.95) rotate(-90)" text-anchor="end" font-size="9.6" fill="#333333" color="#333333">PEOA</text><text transform="translate(56.08,584.95) rotate(-90)" text-anchor="end" font-size="9.6" fill="#333333" color="#333333">RSA</text><text transform="translate(67.6,584.95) rotate(-90)" text-anchor="end" font-size="9.6" fill="#333333" color="#333333">MPA</text><text transform="translate(79.11,584.95) rotate(-90)" text-anchor="end" font-size="9.6" fill="#333333" color="#333333">TSA</text><text transform="translate(90.63,584.95) rotate(-90)" text-anchor="end" font-size="9.6" fill="#333333" color="#333333">WOA</text><text transform="translate(102.15,584.95) rotate(-90)" text-anchor="end" font-size="9.6" fill="#333333" color="#333333">MVO</text><text transform="translate(113.67,584.95) rotate(-90)" text-anchor="end" font-size="9.6" fill="#333333" color="#333333">GWO</text><text transform="translate(125.19,584.95) rotate(-90)" text-anchor="end" font-size="9.6" fill="#333333" color="#333333">TLBO</text><text transform="translate(136.7,584.95) rotate(-90)" text-anchor="end" font-size="9.6" fill="#333333" color="#333333">GSA</text><text transform="translate(148.22,584.95) rotate(-90)" text-anchor="end" font-size="9.6" fill="#333333" color="#333333">PSO</text><text transform="translate(159.74,584.95) rotate(-90)" text-anchor="end" font-size="9.6" fill="#333333" color="#333333">GA</text><text x="98.95" y="477.1" text-anchor="middle" font-size="10.0" font-weight="bold" fill="#101010" color="#101010">F13</text><text transform="translate(10.3,531.33) rotate(-90)" text-anchor="middle" font-size="10.4" fill="#333333" color="#333333">objective function</text><text x="98.95" y="619.15" text-anchor="middle" font-size="10.4" fill="#333333" color="#333333">algorithm</text></g><g><clipPath id="cF14"><rect x="206.8" y="478.7" width="134.1" height="104.35"/></clipPath><rect x="207.4" y="479.3" width="132.9" height="103.15" fill="none" stroke="#3a3a3a"/><path d="M213.44 582.45v-1.4M213.44 479.3v1.4M225.52 582.45v-1.4M225.52 479.3v1.4M237.6 582.45v-1.4M237.6 479.3v1.4M249.69 582.45v-1.4M249.69 479.3v1.4M261.77 582.45v-1.4M261.77 479.3v1.4M273.85 582.45v-1.4M273.85 479.3v1.4M285.93 582.45v-1.4M285.93 479.3v1.4M298.01 582.45v-1.4M298.01 479.3v1.4M310.1 582.45v-1.4M310.1 479.3v1.4M322.18 582.45v-1.4M322.18 479.3v1.4M334.26 582.45v-1.4M334.26 479.3v1.4M207.4 500.35h1.4M340.3 500.35h-1.4M207.4 557.54h1.4M340.3 557.54h-1.4M207.4 543.17h1.4M340.3 543.17h-1.4M207.4 532.97h1.4M340.3 532.97h-1.4M207.4 525.06h1.4M340.3 525.06h-1.4M207.4 518.6h1.4M340.3 518.6h-1.4M207.4 513.14h1.4M340.3 513.14h-1.4M207.4 508.41h1.4M340.3 508.41h-1.4M207.4 504.23h1.4M340.3 504.23h-1.4" stroke="#3a3a3a" stroke-width="1.0" fill="none"/><g clip-path="url(#cF14)" stroke-width="1.0"><rect x="222.5" y="543.86" width="6.04" height="13.77" stroke="#0000ff" fill="none"/><path d="M222.5 543.86H228.54" stroke="#ff0000"/><path d="M249.69 492.04V489.54M249.69 582.67V550.12" stroke="#000000" stroke-dasharray="2.9 3.1" fill="none"/><path d="M248.18 489.54H251.2M248.18 582.67H251.2" stroke="#000000" fill="none"/><rect x="246.67" y="492.04" width="6.04" height="58.08" stroke="#0000ff" fill="none"/><path d="M246.67 497.55H252.71" stroke="#ff0000"/><path d="M270.83 582.17H276.87" stroke="#ff0000"/><path d="M285.93 513.82V492.04M285.93 582.67V582.67" stroke="#000000" stroke-dasharray="2.9 3.1" fill="none"/><path d="M284.42 492.04H287.44M284.42 582.67H287.44" stroke="#000000" fill="none"/><rect x="282.91" y="513.82" width="6.04" height="68.85" stroke="#0000ff" fill="none"/><path d="M282.91 543.86H288.95" stroke="#ff0000"/><path d="M310.1 535.1V512.07M310.1 582.67V571.4" stroke="#000000" stroke-dasharray="2.9 3.1" fill="none"/><path d="M308.59 512.07H311.61M308.59 582.67H311.61" stroke="#000000" fill="none"/><rect x="307.08" y="535.1" width="6.04" height="36.3" stroke="#0000ff" fill="none"/><path d="M307.08 550.12H313.12" stroke="#ff0000"/><path d="M322.18 529.34V525.59M322.18 582.67V582.67" stroke="#000000" stroke-dasharray="2.9 3.1" fill="none"/><path d="M320.67 525.59H323.69M320.67 582.67H323.69" stroke="#000000" fill="none"/><rect x="319.16" y="529.34" width="6.04" height="53.33" stroke="#0000ff" fill="none"/><path d="M319.16 558.13H325.2" stroke="#ff0000"/></g><g stroke-width="1.0"><path d="M208.94 582.29H217.94M213.44 577.79V586.79" stroke="#ff0000"/><path d="M221.02 492.54H230.02M225.52 488.04V497.04" stroke="#ff0000"/><path d="M221.02 497.55H230.02M225.52 493.05V502.05" stroke="#ff0000"/><path d="M233.1 577.16H242.1M237.6 572.66V581.66" stroke="#ff0000"/><path d="M233.1 582.29H242.1M237.6 577.79V586.79" stroke="#ff0000"/><path d="M257.27 497.55H266.27M261.77 493.05V502.05" stroke="#ff0000"/><path d="M257.27 533.1H266.27M261.77 528.6V537.6" stroke="#ff0000"/><path d="M257.27 543.86H266.27M261.77 539.36V548.36" stroke="#ff0000"/><path d="M293.51 543.86H302.51M298.01 539.36V548.36" stroke="#ff0000"/><path d="M293.51 582.29H302.51M298.01 577.79V586.79" stroke="#ff0000"/><path d="M305.6 504.56H314.6M310.1 500.06V509.06" stroke="#ff0000"/><path d="M317.68 480.02H326.68M322.18 475.52V484.52" stroke="#ff0000"/><path d="M317.68 492.04H326.68M322.18 487.54V496.54" stroke="#ff0000"/><path d="M317.68 496.29H326.68M322.18 491.79V500.79" stroke="#ff0000"/><path d="M317.68 500.55H326.68M322.18 496.05V505.05" stroke="#ff0000"/><path d="M329.76 582.29H338.76M334.26 577.79V586.79" stroke="#ff0000"/></g><text x="205.6" y="505.25" text-anchor="end" font-size="9.6" fill="#333333" color="#333333">10<tspan dy="-4.6" font-size="7.2">1</tspan></text><text x="205.6" y="587" text-anchor="end" font-size="9.6" fill="#333333" color="#333333">10<tspan dy="-4.6" font-size="7.2">0</tspan></text><text transform="translate(216.64,584.95) rotate(-90)" text-anchor="end" font-size="9.6" fill="#333333" color="#333333">PEOA</text><text transform="translate(228.72,584.95) rotate(-90)" text-anchor="end" font-size="9.6" fill="#333333" color="#333333">RSA</text><text transform="translate(240.8,584.95) rotate(-90)" text-anchor="end" font-size="9.6" fill="#333333" color="#333333">MPA</text><text transform="translate(252.89,584.95) rotate(-90)" text-anchor="end" font-size="9.6" fill="#333333" color="#333333">TSA</text><text transform="translate(264.97,584.95) rotate(-90)" text-anchor="end" font-size="9.6" fill="#333333" color="#333333">WOA</text><text transform="translate(277.05,584.95) rotate(-90)" text-anchor="end" font-size="9.6" fill="#333333" color="#333333">MVO</text><text transform="translate(289.13,584.95) rotate(-90)" text-anchor="end" font-size="9.6" fill="#333333" color="#333333">GWO</text><text transform="translate(301.21,584.95) rotate(-90)" text-anchor="end" font-size="9.6" fill="#333333" color="#333333">TLBO</text><text transform="translate(313.3,584.95) rotate(-90)" text-anchor="end" font-size="9.6" fill="#333333" color="#333333">GSA</text><text transform="translate(325.38,584.95) rotate(-90)" text-anchor="end" font-size="9.6" fill="#333333" color="#333333">PSO</text><text transform="translate(337.46,584.95) rotate(-90)" text-anchor="end" font-size="9.6" fill="#333333" color="#333333">GA</text><text x="273.85" y="477.1" text-anchor="middle" font-size="10.0" font-weight="bold" fill="#101010" color="#101010">F14</text><text transform="translate(188.4,531.33) rotate(-90)" text-anchor="middle" font-size="10.4" fill="#333333" color="#333333">objective function</text><text x="273.85" y="619.15" text-anchor="middle" font-size="10.4" fill="#333333" color="#333333">algorithm</text></g><g><clipPath id="cF15"><rect x="387.2" y="478.7" width="131.6" height="104.35"/></clipPath><rect x="387.8" y="479.3" width="130.4" height="103.15" fill="none" stroke="#3a3a3a"/><path d="M393.73 582.45v-1.4M393.73 479.3v1.4M405.58 582.45v-1.4M405.58 479.3v1.4M417.44 582.45v-1.4M417.44 479.3v1.4M429.29 582.45v-1.4M429.29 479.3v1.4M441.15 582.45v-1.4M441.15 479.3v1.4M453 582.45v-1.4M453 479.3v1.4M464.85 582.45v-1.4M464.85 479.3v1.4M476.71 582.45v-1.4M476.71 479.3v1.4M488.56 582.45v-1.4M488.56 479.3v1.4M500.42 582.45v-1.4M500.42 479.3v1.4M512.27 582.45v-1.4M512.27 479.3v1.4M387.8 513.85h1.4M518.2 513.85h-1.4M387.8 558.55h1.4M518.2 558.55h-1.4M387.8 545.09h1.4M518.2 545.09h-1.4M387.8 537.22h1.4M518.2 537.22h-1.4M387.8 531.64h1.4M518.2 531.64h-1.4M387.8 527.31h1.4M518.2 527.31h-1.4M387.8 523.77h1.4M518.2 523.77h-1.4M387.8 520.77h1.4M518.2 520.77h-1.4M387.8 518.18h1.4M518.2 518.18h-1.4M387.8 515.9h1.4M518.2 515.9h-1.4M387.8 500.39h1.4M518.2 500.39h-1.4M387.8 492.52h1.4M518.2 492.52h-1.4M387.8 486.94h1.4M518.2 486.94h-1.4M387.8 482.61h1.4M518.2 482.61h-1.4M387.8 576.34h1.4M518.2 576.34h-1.4M387.8 572.01h1.4M518.2 572.01h-1.4M387.8 568.47h1.4M518.2 568.47h-1.4M387.8 565.47h1.4M518.2 565.47h-1.4M387.8 562.88h1.4M518.2 562.88h-1.4M387.8 560.6h1.4M518.2 560.6h-1.4" stroke="#3a3a3a" stroke-width="1.0" fill="none"/><g clip-path="url(#cF15)" stroke-width="1.0"><path d="M405.58 546.37V536.35M405.58 567.15V563.14" stroke="#000000" stroke-dasharray="2.9 3.1" fill="none"/><path d="M404.1 536.35H407.06M404.1 567.15H407.06" stroke="#000000" fill="none"/><rect x="402.62" y="546.37" width="5.93" height="16.77" stroke="#0000ff" fill="none"/><path d="M402.62 554.38H408.55" stroke="#ff0000"/><rect x="426.33" y="500.55" width="5.93" height="81.37" stroke="#0000ff" fill="none"/><path d="M426.33 555.63H432.25" stroke="#ff0000"/><path d="M441.15 567.9V566.65M441.15 581.42V581.42" stroke="#000000" stroke-dasharray="2.9 3.1" fill="none"/><path d="M439.66 566.65H442.63M439.66 581.42H442.63" stroke="#000000" fill="none"/><rect x="438.18" y="567.9" width="5.93" height="13.52" stroke="#0000ff" fill="none"/><path d="M438.18 573.15H444.11" stroke="#ff0000"/><path d="M453 559.64V555.13M453 582.67V569.65" stroke="#000000" stroke-dasharray="2.9 3.1" fill="none"/><path d="M451.52 555.13H454.48M451.52 582.67H454.48" stroke="#000000" fill="none"/><rect x="450.04" y="559.64" width="5.93" height="10.01" stroke="#0000ff" fill="none"/><path d="M450.04 567.65H455.96" stroke="#ff0000"/><rect x="461.89" y="500.55" width="5.93" height="81.37" stroke="#0000ff" fill="none"/><path d="M461.89 581.92H467.82" stroke="#ff0000"/><rect x="473.75" y="579.66" width="5.93" height="2.25" stroke="#0000ff" fill="none"/><path d="M473.75 580.67H479.67" stroke="#ff0000"/><path d="M488.56 540.11V536.85M488.56 551.37V545.11" stroke="#000000" stroke-dasharray="2.9 3.1" fill="none"/><path d="M487.08 536.85H490.05M487.08 551.37H490.05" stroke="#000000" fill="none"/><rect x="485.6" y="540.11" width="5.93" height="5.01" stroke="#0000ff" fill="none"/><path d="M485.6 544.36H491.53" stroke="#ff0000"/><path d="M500.42 553.88V549.37M500.42 581.92V581.92" stroke="#000000" stroke-dasharray="2.9 3.1" fill="none"/><path d="M498.94 549.37H501.9M498.94 581.92H501.9" stroke="#000000" fill="none"/><rect x="497.45" y="553.88" width="5.93" height="28.04" stroke="#0000ff" fill="none"/><path d="M497.45 581.92H503.38" stroke="#ff0000"/><path d="M512.27 522.33V515.07M512.27 564.14V554.38" stroke="#000000" stroke-dasharray="2.9 3.1" fill="none"/><path d="M510.79 515.07H513.75M510.79 564.14H513.75" stroke="#000000" fill="none"/><rect x="509.31" y="522.33" width="5.93" height="32.05" stroke="#0000ff" fill="none"/><path d="M509.31 543.36H515.24" stroke="#ff0000"/></g><g stroke-width="1.0"><path d="M389.23 582.29H398.23M393.73 577.79V586.79" stroke="#ff0000"/><path d="M401.08 528.84H410.08M405.58 524.34V533.34" stroke="#ff0000"/><path d="M412.94 582.29H421.94M417.44 577.79V586.79" stroke="#ff0000"/><path d="M424.79 480.02H433.79M429.29 475.52V484.52" stroke="#ff0000"/><path d="M424.79 480.52H433.79M429.29 476.02V485.02" stroke="#ff0000"/><path d="M436.65 551.62H445.65M441.15 547.12V556.12" stroke="#ff0000"/><path d="M436.65 553.88H445.65M441.15 549.38V558.38" stroke="#ff0000"/><path d="M448.5 500.05H457.5M453 495.55V504.55" stroke="#ff0000"/><path d="M472.21 500.05H481.21M476.71 495.55V504.55" stroke="#ff0000"/><path d="M472.21 555.13H481.21M476.71 550.63V559.63" stroke="#ff0000"/><path d="M472.21 567.15H481.21M476.71 562.65V571.65" stroke="#ff0000"/><path d="M484.06 519.33H493.06M488.56 514.83V523.83" stroke="#ff0000"/><path d="M507.77 497.8H516.77M512.27 493.3V502.3" stroke="#ff0000"/><path d="M507.77 500.8H516.77M512.27 496.3V505.3" stroke="#ff0000"/></g><text x="386" y="518.75" text-anchor="end" font-size="9.6" fill="#333333" color="#333333">10<tspan dy="-4.6" font-size="7.2">-</tspan><tspan dx="0.5" font-size="7.2">2</tspan></text><text x="386" y="563.45" text-anchor="end" font-size="9.6" fill="#333333" color="#333333">10<tspan dy="-4.6" font-size="7.2">-</tspan><tspan dx="0.5" font-size="7.2">3</tspan></text><text transform="translate(396.93,584.95) rotate(-90)" text-anchor="end" font-size="9.6" fill="#333333" color="#333333">PEOA</text><text transform="translate(408.78,584.95) rotate(-90)" text-anchor="end" font-size="9.6" fill="#333333" color="#333333">RSA</text><text transform="translate(420.64,584.95) rotate(-90)" text-anchor="end" font-size="9.6" fill="#333333" color="#333333">MPA</text><text transform="translate(432.49,584.95) rotate(-90)" text-anchor="end" font-size="9.6" fill="#333333" color="#333333">TSA</text><text transform="translate(444.35,584.95) rotate(-90)" text-anchor="end" font-size="9.6" fill="#333333" color="#333333">WOA</text><text transform="translate(456.2,584.95) rotate(-90)" text-anchor="end" font-size="9.6" fill="#333333" color="#333333">MVO</text><text transform="translate(468.05,584.95) rotate(-90)" text-anchor="end" font-size="9.6" fill="#333333" color="#333333">GWO</text><text transform="translate(479.91,584.95) rotate(-90)" text-anchor="end" font-size="9.6" fill="#333333" color="#333333">TLBO</text><text transform="translate(491.76,584.95) rotate(-90)" text-anchor="end" font-size="9.6" fill="#333333" color="#333333">GSA</text><text transform="translate(503.62,584.95) rotate(-90)" text-anchor="end" font-size="9.6" fill="#333333" color="#333333">PSO</text><text transform="translate(515.47,584.95) rotate(-90)" text-anchor="end" font-size="9.6" fill="#333333" color="#333333">GA</text><text x="453" y="477.1" text-anchor="middle" font-size="10.0" font-weight="bold" fill="#101010" color="#101010">F15</text><text transform="translate(366.6,531.33) rotate(-90)" text-anchor="middle" font-size="10.4" fill="#333333" color="#333333">objective function</text><text x="453" y="619.15" text-anchor="middle" font-size="10.4" fill="#333333" color="#333333">algorithm</text></g><g><clipPath id="cF16"><rect x="574.4" y="478.7" width="122.6" height="104.35"/></clipPath><rect x="575" y="479.3" width="121.4" height="103.15" fill="none" stroke="#3a3a3a"/><path d="M580.52 582.45v-1.4M580.52 479.3v1.4M591.55 582.45v-1.4M591.55 479.3v1.4M602.59 582.45v-1.4M602.59 479.3v1.4M613.63 582.45v-1.4M613.63 479.3v1.4M624.66 582.45v-1.4M624.66 479.3v1.4M635.7 582.45v-1.4M635.7 479.3v1.4M646.74 582.45v-1.4M646.74 479.3v1.4M657.77 582.45v-1.4M657.77 479.3v1.4M668.81 582.45v-1.4M668.81 479.3v1.4M679.85 582.45v-1.4M679.85 479.3v1.4M690.88 582.45v-1.4M690.88 479.3v1.4M575 484.4h1.4M696.4 484.4h-1.4M575 514.3h1.4M696.4 514.3h-1.4M575 544.2h1.4M696.4 544.2h-1.4M575 574.1h1.4M696.4 574.1h-1.4M575 484.4h1.4M696.4 484.4h-1.4M575 490.38h1.4M696.4 490.38h-1.4M575 496.36h1.4M696.4 496.36h-1.4M575 502.34h1.4M696.4 502.34h-1.4M575 508.32h1.4M696.4 508.32h-1.4M575 514.3h1.4M696.4 514.3h-1.4M575 520.28h1.4M696.4 520.28h-1.4M575 526.26h1.4M696.4 526.26h-1.4M575 532.24h1.4M696.4 532.24h-1.4M575 538.22h1.4M696.4 538.22h-1.4M575 544.2h1.4M696.4 544.2h-1.4M575 550.18h1.4M696.4 550.18h-1.4M575 556.16h1.4M696.4 556.16h-1.4M575 562.14h1.4M696.4 562.14h-1.4M575 568.12h1.4M696.4 568.12h-1.4M575 574.1h1.4M696.4 574.1h-1.4M575 580.08h1.4M696.4 580.08h-1.4" stroke="#3a3a3a" stroke-width="1.0" fill="none"/><g clip-path="url(#cF16)" stroke-width="1.0"><path d="M577.76 578.16H583.28" stroke="#ff0000"/><path d="M591.55 574.91V573.15M591.55 577.91V577.91" stroke="#000000" stroke-dasharray="2.9 3.1" fill="none"/><path d="M590.17 573.15H592.93M590.17 577.91H592.93" stroke="#000000" fill="none"/><rect x="588.8" y="574.91" width="5.52" height="3" stroke="#0000ff" fill="none"/><path d="M588.8 576.41H594.31" stroke="#ff0000"/><path d="M599.83 578.16H605.35" stroke="#ff0000"/><path d="M610.87 578.16H616.39" stroke="#ff0000"/><path d="M621.9 578.16H627.42" stroke="#ff0000"/><path d="M632.94 578.16H638.46" stroke="#ff0000"/><path d="M643.98 578.16H649.5" stroke="#ff0000"/><path d="M655.01 577.66H660.53" stroke="#ff0000"/><path d="M666.05 578.16H671.57" stroke="#ff0000"/><path d="M677.09 578.16H682.6" stroke="#ff0000"/><path d="M688.12 577.66H693.64" stroke="#ff0000"/></g><g stroke-width="1.0"><path d="M587.05 484.53H596.05M591.55 480.03V489.03" stroke="#ff0000"/><path d="M587.05 571.15H596.05M591.55 566.65V575.65" stroke="#ff0000"/><path d="M598.09 578.16H607.09M602.59 573.66V582.66" stroke="#ff0000"/><path d="M609.13 484.53H618.13M613.63 480.03V489.03" stroke="#ff0000"/><path d="M620.16 578.16H629.16M624.66 573.66V582.66" stroke="#ff0000"/><path d="M631.2 578.16H640.2M635.7 573.66V582.66" stroke="#ff0000"/><path d="M642.24 578.16H651.24M646.74 573.66V582.66" stroke="#ff0000"/><path d="M653.27 577.66H662.27M657.77 573.16V582.16" stroke="#ff0000"/><path d="M675.35 578.16H684.35M679.85 573.66V582.66" stroke="#ff0000"/><path d="M686.38 577.66H695.38M690.88 573.16V582.16" stroke="#ff0000"/></g><text x="573.2" y="487.9" text-anchor="end" font-size="9.6" fill="#333333" color="#333333">-1</text><text x="573.2" y="517.8" text-anchor="end" font-size="9.6" fill="#333333" color="#333333">-1.01</text><text x="573.2" y="547.7" text-anchor="end" font-size="9.6" fill="#333333" color="#333333">-1.02</text><text x="573.2" y="577.6" text-anchor="end" font-size="9.6" fill="#333333" color="#333333">-1.03</text><text transform="translate(583.72,584.95) rotate(-90)" text-anchor="end" font-size="9.6" fill="#333333" color="#333333">PEOA</text><text transform="translate(594.75,584.95) rotate(-90)" text-anchor="end" font-size="9.6" fill="#333333" color="#333333">RSA</text><text transform="translate(605.79,584.95) rotate(-90)" text-anchor="end" font-size="9.6" fill="#333333" color="#333333">MPA</text><text transform="translate(616.83,584.95) rotate(-90)" text-anchor="end" font-size="9.6" fill="#333333" color="#333333">TSA</text><text transform="translate(627.86,584.95) rotate(-90)" text-anchor="end" font-size="9.6" fill="#333333" color="#333333">WOA</text><text transform="translate(638.9,584.95) rotate(-90)" text-anchor="end" font-size="9.6" fill="#333333" color="#333333">MVO</text><text transform="translate(649.94,584.95) rotate(-90)" text-anchor="end" font-size="9.6" fill="#333333" color="#333333">GWO</text><text transform="translate(660.97,584.95) rotate(-90)" text-anchor="end" font-size="9.6" fill="#333333" color="#333333">TLBO</text><text transform="translate(672.01,584.95) rotate(-90)" text-anchor="end" font-size="9.6" fill="#333333" color="#333333">GSA</text><text transform="translate(683.05,584.95) rotate(-90)" text-anchor="end" font-size="9.6" fill="#333333" color="#333333">PSO</text><text transform="translate(694.08,584.95) rotate(-90)" text-anchor="end" font-size="9.6" fill="#333333" color="#333333">GA</text><text x="635.7" y="477.1" text-anchor="middle" font-size="10.0" font-weight="bold" fill="#101010" color="#101010">F16</text><text transform="translate(549.1,531.33) rotate(-90)" text-anchor="middle" font-size="10.4" fill="#333333" color="#333333">objective function</text><text x="635.7" y="619.15" text-anchor="middle" font-size="10.4" fill="#333333" color="#333333">algorithm</text></g><g><clipPath id="cF17"><rect x="28.3" y="633.8" width="134.6" height="104.35"/></clipPath><rect x="28.9" y="634.4" width="133.4" height="103.15" fill="none" stroke="#3a3a3a"/><path d="M34.96 737.55v-1.4M34.96 634.4v1.4M47.09 737.55v-1.4M47.09 634.4v1.4M59.22 737.55v-1.4M59.22 634.4v1.4M71.35 737.55v-1.4M71.35 634.4v1.4M83.47 737.55v-1.4M83.47 634.4v1.4M95.6 737.55v-1.4M95.6 634.4v1.4M107.73 737.55v-1.4M107.73 634.4v1.4M119.85 737.55v-1.4M119.85 634.4v1.4M131.98 737.55v-1.4M131.98 634.4v1.4M144.11 737.55v-1.4M144.11 634.4v1.4M156.24 737.55v-1.4M156.24 634.4v1.4M28.9 681.15h1.4M162.3 681.15h-1.4M28.9 661.58h1.4M162.3 661.58h-1.4M28.9 650.14h1.4M162.3 650.14h-1.4M28.9 642.02h1.4M162.3 642.02h-1.4M28.9 635.72h1.4M162.3 635.72h-1.4M28.9 726.58h1.4M162.3 726.58h-1.4M28.9 715.14h1.4M162.3 715.14h-1.4M28.9 707.02h1.4M162.3 707.02h-1.4M28.9 700.72h1.4M162.3 700.72h-1.4M28.9 695.57h1.4M162.3 695.57h-1.4M28.9 691.22h1.4M162.3 691.22h-1.4M28.9 687.45h1.4M162.3 687.45h-1.4M28.9 684.12h1.4M162.3 684.12h-1.4" stroke="#3a3a3a" stroke-width="1.0" fill="none"/><g clip-path="url(#cF17)" stroke-width="1.0"><path d="M31.93 707.63H38" stroke="#ff0000"/><rect x="44.06" y="706.37" width="6.06" height="1.25" stroke="#0000ff" fill="none"/><path d="M44.06 707.12H50.12" stroke="#ff0000"/><path d="M56.19 707.63H62.25" stroke="#ff0000"/><path d="M68.31 707.63H74.38" stroke="#ff0000"/><path d="M80.44 707.63H86.5" stroke="#ff0000"/><path d="M92.57 707.63H98.63" stroke="#ff0000"/><path d="M104.7 707.63H110.76" stroke="#ff0000"/><path d="M116.82 707.63H122.89" stroke="#ff0000"/><path d="M128.95 707.63H135.01" stroke="#ff0000"/><path d="M144.11 702.99V698.36M144.11 707.75V707.75" stroke="#000000" stroke-dasharray="2.9 3.1" fill="none"/><path d="M142.59 698.36H145.62M142.59 707.75H145.62" stroke="#000000" fill="none"/><rect x="141.08" y="702.99" width="6.06" height="4.76" stroke="#0000ff" fill="none"/><path d="M141.08 707.75H147.14" stroke="#ff0000"/><path d="M153.2 707.63H159.27" stroke="#ff0000"/></g><g stroke-width="1.0"><path d="M42.59 635.77H51.59M47.09 631.27V640.27" stroke="#ff0000"/><path d="M42.59 692.6H51.59M47.09 688.1V697.1" stroke="#ff0000"/><path d="M54.72 707.63H63.72M59.22 703.13V712.13" stroke="#ff0000"/><path d="M78.97 707.63H87.97M83.47 703.13V712.13" stroke="#ff0000"/><path d="M91.1 707.63H100.1M95.6 703.13V712.13" stroke="#ff0000"/><path d="M103.23 707.63H112.23M107.73 703.13V712.13" stroke="#ff0000"/><path d="M115.35 702.12H124.35M119.85 697.62V706.62" stroke="#ff0000"/><path d="M115.35 707.63H124.35M119.85 703.13V712.13" stroke="#ff0000"/><path d="M139.61 652.42H148.61M144.11 647.92V656.92" stroke="#ff0000"/><path d="M139.61 675.83H148.61M144.11 671.33V680.33" stroke="#ff0000"/><path d="M139.61 686.6H148.61M144.11 682.1V691.1" stroke="#ff0000"/><path d="M139.61 694.61H148.61M144.11 690.11V699.11" stroke="#ff0000"/><path d="M151.74 652.55H160.74M156.24 648.05V657.05" stroke="#ff0000"/><path d="M151.74 673.08H160.74M156.24 668.58V677.58" stroke="#ff0000"/><path d="M151.74 707.63H160.74M156.24 703.13V712.13" stroke="#ff0000"/></g><text x="27.1" y="686.05" text-anchor="end" font-size="9.6" fill="#333333" color="#333333">10<tspan dy="-4.6" font-size="7.2">0</tspan></text><text transform="translate(38.16,740.05) rotate(-90)" text-anchor="end" font-size="9.6" fill="#333333" color="#333333">PEOA</text><text transform="translate(50.29,740.05) rotate(-90)" text-anchor="end" font-size="9.6" fill="#333333" color="#333333">RSA</text><text transform="translate(62.42,740.05) rotate(-90)" text-anchor="end" font-size="9.6" fill="#333333" color="#333333">MPA</text><text transform="translate(74.55,740.05) rotate(-90)" text-anchor="end" font-size="9.6" fill="#333333" color="#333333">TSA</text><text transform="translate(86.67,740.05) rotate(-90)" text-anchor="end" font-size="9.6" fill="#333333" color="#333333">WOA</text><text transform="translate(98.8,740.05) rotate(-90)" text-anchor="end" font-size="9.6" fill="#333333" color="#333333">MVO</text><text transform="translate(110.93,740.05) rotate(-90)" text-anchor="end" font-size="9.6" fill="#333333" color="#333333">GWO</text><text transform="translate(123.05,740.05) rotate(-90)" text-anchor="end" font-size="9.6" fill="#333333" color="#333333">TLBO</text><text transform="translate(135.18,740.05) rotate(-90)" text-anchor="end" font-size="9.6" fill="#333333" color="#333333">GSA</text><text transform="translate(147.31,740.05) rotate(-90)" text-anchor="end" font-size="9.6" fill="#333333" color="#333333">PSO</text><text transform="translate(159.44,740.05) rotate(-90)" text-anchor="end" font-size="9.6" fill="#333333" color="#333333">GA</text><text x="95.6" y="632.2" text-anchor="middle" font-size="10.0" font-weight="bold" fill="#101010" color="#101010">F17</text><text transform="translate(10.3,686.42) rotate(-90)" text-anchor="middle" font-size="10.4" fill="#333333" color="#333333">objective function</text><text x="95.6" y="774.25" text-anchor="middle" font-size="10.4" fill="#333333" color="#333333">algorithm</text></g><g><clipPath id="cF18"><rect x="206.8" y="633.8" width="134.1" height="104.35"/></clipPath><rect x="207.4" y="634.4" width="132.9" height="103.15" fill="none" stroke="#3a3a3a"/><path d="M213.44 737.55v-1.4M213.44 634.4v1.4M225.52 737.55v-1.4M225.52 634.4v1.4M237.6 737.55v-1.4M237.6 634.4v1.4M249.69 737.55v-1.4M249.69 634.4v1.4M261.77 737.55v-1.4M261.77 634.4v1.4M273.85 737.55v-1.4M273.85 634.4v1.4M285.93 737.55v-1.4M285.93 634.4v1.4M298.01 737.55v-1.4M298.01 634.4v1.4M310.1 737.55v-1.4M310.1 634.4v1.4M322.18 737.55v-1.4M322.18 634.4v1.4M334.26 737.55v-1.4M334.26 634.4v1.4M207.4 700.35h1.4M340.3 700.35h-1.4M207.4 679.58h1.4M340.3 679.58h-1.4M207.4 667.43h1.4M340.3 667.43h-1.4M207.4 658.81h1.4M340.3 658.81h-1.4M207.4 652.12h1.4M340.3 652.12h-1.4M207.4 646.66h1.4M340.3 646.66h-1.4M207.4 642.04h1.4M340.3 642.04h-1.4M207.4 638.04h1.4M340.3 638.04h-1.4M207.4 736.43h1.4M340.3 736.43h-1.4M207.4 727.81h1.4M340.3 727.81h-1.4M207.4 721.12h1.4M340.3 721.12h-1.4M207.4 715.66h1.4M340.3 715.66h-1.4M207.4 711.04h1.4M340.3 711.04h-1.4M207.4 707.04h1.4M340.3 707.04h-1.4M207.4 703.51h1.4M340.3 703.51h-1.4" stroke="#3a3a3a" stroke-width="1.0" fill="none"/><g clip-path="url(#cF18)" stroke-width="1.0"><path d="M208.94 737.42H217.94M213.44 732.92V741.92" stroke="#ff0000"/><path d="M221.02 737.42H230.02M225.52 732.92V741.92" stroke="#ff0000"/><path d="M233.1 737.42H242.1M237.6 732.92V741.92" stroke="#ff0000"/><path d="M249.69 685.84V667.07M249.69 737.67V737.67" stroke="#000000" stroke-dasharray="2.9 3.1" fill="none"/><path d="M248.18 667.07H251.2M248.18 737.67H251.2" stroke="#000000" fill="none"/><rect x="246.67" y="685.84" width="6.04" height="51.82" stroke="#0000ff" fill="none"/><path d="M246.67 737.67H252.71" stroke="#ff0000"/><path d="M257.27 737.42H266.27M261.77 732.92V741.92" stroke="#ff0000"/><path d="M269.35 737.42H278.35M273.85 732.92V741.92" stroke="#ff0000"/><path d="M281.43 737.42H290.43M285.93 732.92V741.92" stroke="#ff0000"/><path d="M293.51 737.42H302.51M298.01 732.92V741.92" stroke="#ff0000"/><path d="M305.6 737.42H314.6M310.1 732.92V741.92" stroke="#ff0000"/><path d="M317.68 737.42H326.68M322.18 732.92V741.92" stroke="#ff0000"/><path d="M331.24 737.42H337.28" stroke="#ff0000"/></g><g stroke-width="1.0"><path d="M221.02 667.07H230.02M225.52 662.57V671.57" stroke="#ff0000"/><path d="M245.19 636.27H254.19M249.69 631.77V640.77" stroke="#ff0000"/><path d="M329.76 665.82H338.76M334.26 661.32V670.32" stroke="#ff0000"/><path d="M329.76 667.07H338.76M334.26 662.57V671.57" stroke="#ff0000"/></g><text x="205.6" y="705.25" text-anchor="end" font-size="9.6" fill="#333333" color="#333333">10<tspan dy="-4.6" font-size="7.2">1</tspan></text><text transform="translate(216.64,740.05) rotate(-90)" text-anchor="end" font-size="9.6" fill="#333333" color="#333333">PEOA</text><text transform="translate(228.72,740.05) rotate(-90)" text-anchor="end" font-size="9.6" fill="#333333" color="#333333">RSA</text><text transform="translate(240.8,740.05) rotate(-90)" text-anchor="end" font-size="9.6" fill="#333333" color="#333333">MPA</text><text transform="translate(252.89,740.05) rotate(-90)" text-anchor="end" font-size="9.6" fill="#333333" color="#333333">TSA</text><text transform="translate(264.97,740.05) rotate(-90)" text-anchor="end" font-size="9.6" fill="#333333" color="#333333">WOA</text><text transform="translate(277.05,740.05) rotate(-90)" text-anchor="end" font-size="9.6" fill="#333333" color="#333333">MVO</text><text transform="translate(289.13,740.05) rotate(-90)" text-anchor="end" font-size="9.6" fill="#333333" color="#333333">GWO</text><text transform="translate(301.21,740.05) rotate(-90)" text-anchor="end" font-size="9.6" fill="#333333" color="#333333">TLBO</text><text transform="translate(313.3,740.05) rotate(-90)" text-anchor="end" font-size="9.6" fill="#333333" color="#333333">GSA</text><text transform="translate(325.38,740.05) rotate(-90)" text-anchor="end" font-size="9.6" fill="#333333" color="#333333">PSO</text><text transform="translate(337.46,740.05) rotate(-90)" text-anchor="end" font-size="9.6" fill="#333333" color="#333333">GA</text><text x="273.85" y="632.2" text-anchor="middle" font-size="10.0" font-weight="bold" fill="#101010" color="#101010">F18</text><text transform="translate(188.4,686.42) rotate(-90)" text-anchor="middle" font-size="10.4" fill="#333333" color="#333333">objective function</text><text x="273.85" y="774.25" text-anchor="middle" font-size="10.4" fill="#333333" color="#333333">algorithm</text></g><g><clipPath id="cF19"><rect x="390.8" y="633.8" width="128" height="104.35"/></clipPath><rect x="391.4" y="634.4" width="126.8" height="103.15" fill="none" stroke="#3a3a3a"/><path d="M397.16 737.55v-1.4M397.16 634.4v1.4M408.69 737.55v-1.4M408.69 634.4v1.4M420.22 737.55v-1.4M420.22 634.4v1.4M431.75 737.55v-1.4M431.75 634.4v1.4M443.27 737.55v-1.4M443.27 634.4v1.4M454.8 737.55v-1.4M454.8 634.4v1.4M466.33 737.55v-1.4M466.33 634.4v1.4M477.85 737.55v-1.4M477.85 634.4v1.4M489.38 737.55v-1.4M489.38 634.4v1.4M500.91 737.55v-1.4M500.91 634.4v1.4M512.44 737.55v-1.4M512.44 634.4v1.4M391.4 643.7h1.4M518.2 643.7h-1.4M391.4 671.3h1.4M518.2 671.3h-1.4M391.4 698.9h1.4M518.2 698.9h-1.4M391.4 726.5h1.4M518.2 726.5h-1.4M391.4 638.18h1.4M518.2 638.18h-1.4M391.4 643.7h1.4M518.2 643.7h-1.4M391.4 649.22h1.4M518.2 649.22h-1.4M391.4 654.74h1.4M518.2 654.74h-1.4M391.4 660.26h1.4M518.2 660.26h-1.4M391.4 665.78h1.4M518.2 665.78h-1.4M391.4 671.3h1.4M518.2 671.3h-1.4M391.4 676.82h1.4M518.2 676.82h-1.4M391.4 682.34h1.4M518.2 682.34h-1.4M391.4 687.86h1.4M518.2 687.86h-1.4M391.4 693.38h1.4M518.2 693.38h-1.4M391.4 698.9h1.4M518.2 698.9h-1.4M391.4 704.42h1.4M518.2 704.42h-1.4M391.4 709.94h1.4M518.2 709.94h-1.4M391.4 715.46h1.4M518.2 715.46h-1.4M391.4 720.98h1.4M518.2 720.98h-1.4M391.4 726.5h1.4M518.2 726.5h-1.4M391.4 732.02h1.4M518.2 732.02h-1.4" stroke="#3a3a3a" stroke-width="1.0" fill="none"/><g clip-path="url(#cF19)" stroke-width="1.0"><path d="M394.28 733.16H400.05" stroke="#ff0000"/><path d="M408.69 703.37V694.61M408.69 731.16V722.15" stroke="#000000" stroke-dasharray="2.9 3.1" fill="none"/><path d="M407.25 694.61H410.13M407.25 731.16H410.13" stroke="#000000" fill="none"/><rect x="405.81" y="703.37" width="5.76" height="18.78" stroke="#0000ff" fill="none"/><path d="M405.81 713.88H411.57" stroke="#ff0000"/><path d="M417.34 733.16H423.1" stroke="#ff0000"/><path d="M428.86 733.41H434.63" stroke="#ff0000"/><path d="M443.27 730.41V729.41M443.27 733.41V732.91" stroke="#000000" stroke-dasharray="2.9 3.1" fill="none"/><path d="M441.83 729.41H444.71M441.83 733.41H444.71" stroke="#000000" fill="none"/><rect x="440.39" y="730.41" width="5.76" height="2.5" stroke="#0000ff" fill="none"/><path d="M440.39 732.16H446.15" stroke="#ff0000"/><path d="M451.92 733.16H457.68" stroke="#ff0000"/><path d="M463.45 733.16H469.21" stroke="#ff0000"/><path d="M474.97 732.66H480.74" stroke="#ff0000"/><path d="M486.5 733.16H492.26" stroke="#ff0000"/><path d="M498.03 733.16H503.79" stroke="#ff0000"/><path d="M509.55 733.16H515.32" stroke="#ff0000"/></g><g stroke-width="1.0"><path d="M404.19 638.78H413.19M408.69 634.28V643.28" stroke="#ff0000"/><path d="M404.19 643.78H413.19M408.69 639.28V648.28" stroke="#ff0000"/><path d="M404.19 675.08H413.19M408.69 670.58V679.58" stroke="#ff0000"/><path d="M415.72 733.16H424.72M420.22 728.66V737.66" stroke="#ff0000"/><path d="M427.25 729.16H436.25M431.75 724.66V733.66" stroke="#ff0000"/><path d="M450.3 733.16H459.3M454.8 728.66V737.66" stroke="#ff0000"/><path d="M461.83 730.16H470.83M466.33 725.66V734.66" stroke="#ff0000"/><path d="M461.83 733.16H470.83M466.33 728.66V737.66" stroke="#ff0000"/><path d="M473.35 728.91H482.35M477.85 724.41V733.41" stroke="#ff0000"/><path d="M507.94 727.65H516.94M512.44 723.15V732.15" stroke="#ff0000"/><path d="M507.94 732.66H516.94M512.44 728.16V737.16" stroke="#ff0000"/><path d="M507.94 733.91H516.94M512.44 729.41V738.41" stroke="#ff0000"/></g><text x="389.6" y="647.2" text-anchor="end" font-size="9.6" fill="#333333" color="#333333">-3.7</text><text x="389.6" y="674.8" text-anchor="end" font-size="9.6" fill="#333333" color="#333333">-3.75</text><text x="389.6" y="702.4" text-anchor="end" font-size="9.6" fill="#333333" color="#333333">-3.8</text><text x="389.6" y="730" text-anchor="end" font-size="9.6" fill="#333333" color="#333333">-3.85</text><text transform="translate(400.36,740.05) rotate(-90)" text-anchor="end" font-size="9.6" fill="#333333" color="#333333">PEOA</text><text transform="translate(411.89,740.05) rotate(-90)" text-anchor="end" font-size="9.6" fill="#333333" color="#333333">RSA</text><text transform="translate(423.42,740.05) rotate(-90)" text-anchor="end" font-size="9.6" fill="#333333" color="#333333">MPA</text><text transform="translate(434.95,740.05) rotate(-90)" text-anchor="end" font-size="9.6" fill="#333333" color="#333333">TSA</text><text transform="translate(446.47,740.05) rotate(-90)" text-anchor="end" font-size="9.6" fill="#333333" color="#333333">WOA</text><text transform="translate(458,740.05) rotate(-90)" text-anchor="end" font-size="9.6" fill="#333333" color="#333333">MVO</text><text transform="translate(469.53,740.05) rotate(-90)" text-anchor="end" font-size="9.6" fill="#333333" color="#333333">GWO</text><text transform="translate(481.05,740.05) rotate(-90)" text-anchor="end" font-size="9.6" fill="#333333" color="#333333">TLBO</text><text transform="translate(492.58,740.05) rotate(-90)" text-anchor="end" font-size="9.6" fill="#333333" color="#333333">GSA</text><text transform="translate(504.11,740.05) rotate(-90)" text-anchor="end" font-size="9.6" fill="#333333" color="#333333">PSO</text><text transform="translate(515.64,740.05) rotate(-90)" text-anchor="end" font-size="9.6" fill="#333333" color="#333333">GA</text><text x="454.8" y="632.2" text-anchor="middle" font-size="10.0" font-weight="bold" fill="#101010" color="#101010">F19</text><text transform="translate(366.5,686.42) rotate(-90)" text-anchor="middle" font-size="10.4" fill="#333333" color="#333333">objective function</text><text x="454.8" y="774.25" text-anchor="middle" font-size="10.4" fill="#333333" color="#333333">algorithm</text></g><g><clipPath id="cF20"><rect x="564.8" y="633.8" width="132.2" height="104.35"/></clipPath><rect x="565.4" y="634.4" width="131" height="103.15" fill="none" stroke="#3a3a3a"/><path d="M571.35 737.55v-1.4M571.35 634.4v1.4M583.26 737.55v-1.4M583.26 634.4v1.4M595.17 737.55v-1.4M595.17 634.4v1.4M607.08 737.55v-1.4M607.08 634.4v1.4M618.99 737.55v-1.4M618.99 634.4v1.4M630.9 737.55v-1.4M630.9 634.4v1.4M642.81 737.55v-1.4M642.81 634.4v1.4M654.72 737.55v-1.4M654.72 634.4v1.4M666.63 737.55v-1.4M666.63 634.4v1.4M678.54 737.55v-1.4M678.54 634.4v1.4M690.45 737.55v-1.4M690.45 634.4v1.4M565.4 651.95h1.4M696.4 651.95h-1.4M565.4 680.65h1.4M696.4 680.65h-1.4M565.4 704.15h1.4M696.4 704.15h-1.4M565.4 723.15h1.4M696.4 723.15h-1.4M565.4 667.77h1.4M696.4 667.77h-1.4M565.4 693.55h1.4M696.4 693.55h-1.4M565.4 714.14h1.4M696.4 714.14h-1.4M565.4 731.28h1.4M696.4 731.28h-1.4" stroke="#3a3a3a" stroke-width="1.0" fill="none"/><g clip-path="url(#cF20)" stroke-width="1.0"><path d="M568.38 733.41H574.33" stroke="#ff0000"/><path d="M583.26 688.6V642.53M583.26 720.14V715.14" stroke="#000000" stroke-dasharray="2.9 3.1" fill="none"/><path d="M581.77 642.53H584.75M581.77 720.14H584.75" stroke="#000000" fill="none"/><rect x="580.29" y="688.6" width="5.95" height="26.54" stroke="#0000ff" fill="none"/><path d="M580.29 709.38H586.24" stroke="#ff0000"/><rect x="592.2" y="729.53" width="5.95" height="3.88" stroke="#0000ff" fill="none"/><path d="M592.2 733.41H598.15" stroke="#ff0000"/><path d="M607.08 729.53V724.27M607.08 733.41V733.41" stroke="#000000" stroke-dasharray="2.9 3.1" fill="none"/><path d="M605.59 724.27H608.57M605.59 733.41H608.57" stroke="#000000" fill="none"/><rect x="604.1" y="729.53" width="5.95" height="3.88" stroke="#0000ff" fill="none"/><path d="M604.1 729.78H610.06" stroke="#ff0000"/><path d="M618.99 729.66V727.65M618.99 733.41V733.41" stroke="#000000" stroke-dasharray="2.9 3.1" fill="none"/><path d="M617.5 727.65H620.48M617.5 733.41H620.48" stroke="#000000" fill="none"/><rect x="616.01" y="729.66" width="5.95" height="3.76" stroke="#0000ff" fill="none"/><path d="M616.01 733.41H621.97" stroke="#ff0000"/><rect x="627.92" y="729.91" width="5.95" height="3.51" stroke="#0000ff" fill="none"/><path d="M627.92 731.16H633.88" stroke="#ff0000"/><path d="M642.81 729.53V725.65M642.81 733.41V733.41" stroke="#000000" stroke-dasharray="2.9 3.1" fill="none"/><path d="M641.32 725.65H644.3M641.32 733.41H644.3" stroke="#000000" fill="none"/><rect x="639.83" y="729.53" width="5.95" height="3.88" stroke="#0000ff" fill="none"/><path d="M639.83 733.41H645.79" stroke="#ff0000"/><path d="M654.72 729.53V726.4M654.72 733.41V733.41" stroke="#000000" stroke-dasharray="2.9 3.1" fill="none"/><path d="M653.23 726.4H656.21M653.23 733.41H656.21" stroke="#000000" fill="none"/><rect x="651.74" y="729.53" width="5.95" height="3.88" stroke="#0000ff" fill="none"/><path d="M651.74 732.79H657.7" stroke="#ff0000"/><path d="M663.65 733.54H669.6" stroke="#ff0000"/><path d="M678.54 729.66V728.15M678.54 733.41V733.41" stroke="#000000" stroke-dasharray="2.9 3.1" fill="none"/><path d="M677.05 728.15H680.02M677.05 733.41H680.02" stroke="#000000" fill="none"/><rect x="675.56" y="729.66" width="5.95" height="3.76" stroke="#0000ff" fill="none"/><path d="M675.56 729.66H681.51" stroke="#ff0000"/><path d="M690.45 728.4V723.9M690.45 732.66V731.91" stroke="#000000" stroke-dasharray="2.9 3.1" fill="none"/><path d="M688.96 723.9H691.93M688.96 732.66H691.93" stroke="#000000" fill="none"/><rect x="687.47" y="728.4" width="5.95" height="3.51" stroke="#0000ff" fill="none"/><path d="M687.47 730.16H693.42" stroke="#ff0000"/></g><g stroke-width="1.0"><path d="M566.85 733.41H575.85M571.35 728.91V737.91" stroke="#ff0000"/><path d="M685.95 720.14H694.95M690.45 715.64V724.64" stroke="#ff0000"/></g><text x="563.6" y="655.45" text-anchor="end" font-size="9.6" fill="#333333" color="#333333">-1.5</text><text x="563.6" y="684.15" text-anchor="end" font-size="9.6" fill="#333333" color="#333333">-2</text><text x="563.6" y="707.65" text-anchor="end" font-size="9.6" fill="#333333" color="#333333">-2.5</text><text x="563.6" y="726.65" text-anchor="end" font-size="9.6" fill="#333333" color="#333333">-3</text><text transform="translate(574.55,740.05) rotate(-90)" text-anchor="end" font-size="9.6" fill="#333333" color="#333333">PEOA</text><text transform="translate(586.46,740.05) rotate(-90)" text-anchor="end" font-size="9.6" fill="#333333" color="#333333">RSA</text><text transform="translate(598.37,740.05) rotate(-90)" text-anchor="end" font-size="9.6" fill="#333333" color="#333333">MPA</text><text transform="translate(610.28,740.05) rotate(-90)" text-anchor="end" font-size="9.6" fill="#333333" color="#333333">TSA</text><text transform="translate(622.19,740.05) rotate(-90)" text-anchor="end" font-size="9.6" fill="#333333" color="#333333">WOA</text><text transform="translate(634.1,740.05) rotate(-90)" text-anchor="end" font-size="9.6" fill="#333333" color="#333333">MVO</text><text transform="translate(646.01,740.05) rotate(-90)" text-anchor="end" font-size="9.6" fill="#333333" color="#333333">GWO</text><text transform="translate(657.92,740.05) rotate(-90)" text-anchor="end" font-size="9.6" fill="#333333" color="#333333">TLBO</text><text transform="translate(669.83,740.05) rotate(-90)" text-anchor="end" font-size="9.6" fill="#333333" color="#333333">GSA</text><text transform="translate(681.74,740.05) rotate(-90)" text-anchor="end" font-size="9.6" fill="#333333" color="#333333">PSO</text><text transform="translate(693.65,740.05) rotate(-90)" text-anchor="end" font-size="9.6" fill="#333333" color="#333333">GA</text><text x="630.9" y="632.2" text-anchor="middle" font-size="10.0" font-weight="bold" fill="#101010" color="#101010">F20</text><text transform="translate(544.1,686.42) rotate(-90)" text-anchor="middle" font-size="10.4" fill="#333333" color="#333333">objective function</text><text x="630.9" y="774.25" text-anchor="middle" font-size="10.4" fill="#333333" color="#333333">algorithm</text></g><g><clipPath id="cF21"><rect x="31.6" y="788.9" width="131.3" height="104.35"/></clipPath><rect x="32.2" y="789.5" width="130.1" height="103.15" fill="none" stroke="#3a3a3a"/><path d="M38.11 892.65v-1.4M38.11 789.5v1.4M49.94 892.65v-1.4M49.94 789.5v1.4M61.77 892.65v-1.4M61.77 789.5v1.4M73.6 892.65v-1.4M73.6 789.5v1.4M85.42 892.65v-1.4M85.42 789.5v1.4M97.25 892.65v-1.4M97.25 789.5v1.4M109.08 892.65v-1.4M109.08 789.5v1.4M120.9 892.65v-1.4M120.9 789.5v1.4M132.73 892.65v-1.4M132.73 789.5v1.4M144.56 892.65v-1.4M144.56 789.5v1.4M156.39 892.65v-1.4M156.39 789.5v1.4M32.2 801.65h1.4M162.3 801.65h-1.4M32.2 883.95h1.4M162.3 883.95h-1.4M32.2 826.42h1.4M162.3 826.42h-1.4M32.2 840.92h1.4M162.3 840.92h-1.4M32.2 851.2h1.4M162.3 851.2h-1.4M32.2 859.18h1.4M162.3 859.18h-1.4M32.2 865.69h1.4M162.3 865.69h-1.4M32.2 871.2h1.4M162.3 871.2h-1.4M32.2 875.97h1.4M162.3 875.97h-1.4M32.2 880.18h1.4M162.3 880.18h-1.4" stroke="#3a3a3a" stroke-width="1.0" fill="none"/><g clip-path="url(#cF21)" stroke-width="1.0"><path d="M35.16 884.41H41.07" stroke="#ff0000"/><path d="M46.98 859.37H52.9" stroke="#ff0000"/><path d="M58.81 884.41H64.73" stroke="#ff0000"/><path d="M73.6 859.37V836.34M73.6 884.41V884.41" stroke="#000000" stroke-dasharray="2.9 3.1" fill="none"/><path d="M72.12 836.34H75.07M72.12 884.41H75.07" stroke="#000000" fill="none"/><rect x="70.64" y="859.37" width="5.91" height="25.04" stroke="#0000ff" fill="none"/><path d="M70.64 859.37H76.55" stroke="#ff0000"/><path d="M85.42 859.37V836.34M85.42 884.41V884.41" stroke="#000000" stroke-dasharray="2.9 3.1" fill="none"/><path d="M83.94 836.34H86.9M83.94 884.41H86.9" stroke="#000000" fill="none"/><rect x="82.47" y="859.37" width="5.91" height="25.04" stroke="#0000ff" fill="none"/><path d="M82.47 884.41H88.38" stroke="#ff0000"/><path d="M97.25 859.62V836.34M97.25 884.41V884.41" stroke="#000000" stroke-dasharray="2.9 3.1" fill="none"/><path d="M95.77 836.34H98.73M95.77 884.41H98.73" stroke="#000000" fill="none"/><rect x="94.29" y="859.62" width="5.91" height="24.79" stroke="#0000ff" fill="none"/><path d="M94.29 884.41H100.21" stroke="#ff0000"/><rect x="106.12" y="859.62" width="5.91" height="24.79" stroke="#0000ff" fill="none"/><path d="M106.12 884.41H112.03" stroke="#ff0000"/><path d="M120.9 856.37V853.86M120.9 880.65V875.14" stroke="#000000" stroke-dasharray="2.9 3.1" fill="none"/><path d="M119.43 853.86H122.38M119.43 880.65H122.38" stroke="#000000" fill="none"/><rect x="117.95" y="856.37" width="5.91" height="18.78" stroke="#0000ff" fill="none"/><path d="M117.95 865.88H123.86" stroke="#ff0000"/><path d="M132.73 849.36V836.34M132.73 884.41V884.41" stroke="#000000" stroke-dasharray="2.9 3.1" fill="none"/><path d="M131.25 836.34H134.21M131.25 884.41H134.21" stroke="#000000" fill="none"/><rect x="129.78" y="849.36" width="5.91" height="35.05" stroke="#0000ff" fill="none"/><path d="M129.78 884.41H135.69" stroke="#ff0000"/><rect x="141.6" y="836.34" width="5.91" height="48.07" stroke="#0000ff" fill="none"/><path d="M141.6 850.11H147.52" stroke="#ff0000"/><path d="M156.39 836.34V833.83M156.39 880.65V870.89" stroke="#000000" stroke-dasharray="2.9 3.1" fill="none"/><path d="M154.91 833.83H157.86M154.91 880.65H157.86" stroke="#000000" fill="none"/><rect x="153.43" y="836.34" width="5.91" height="34.55" stroke="#0000ff" fill="none"/><path d="M153.43 857.12H159.34" stroke="#ff0000"/></g><g stroke-width="1.0"><path d="M57.27 884.41H66.27M61.77 879.91V888.91" stroke="#ff0000"/></g><text x="30.4" y="806.55" text-anchor="end" font-size="9.6" fill="#333333" color="#333333">-10<tspan dy="-4.6" font-size="7.2">0</tspan></text><text x="30.4" y="888.85" text-anchor="end" font-size="9.6" fill="#333333" color="#333333">-10<tspan dy="-4.6" font-size="7.2">1</tspan></text><text transform="translate(41.31,895.15) rotate(-90)" text-anchor="end" font-size="9.6" fill="#333333" color="#333333">PEOA</text><text transform="translate(53.14,895.15) rotate(-90)" text-anchor="end" font-size="9.6" fill="#333333" color="#333333">RSA</text><text transform="translate(64.97,895.15) rotate(-90)" text-anchor="end" font-size="9.6" fill="#333333" color="#333333">MPA</text><text transform="translate(76.8,895.15) rotate(-90)" text-anchor="end" font-size="9.6" fill="#333333" color="#333333">TSA</text><text transform="translate(88.62,895.15) rotate(-90)" text-anchor="end" font-size="9.6" fill="#333333" color="#333333">WOA</text><text transform="translate(100.45,895.15) rotate(-90)" text-anchor="end" font-size="9.6" fill="#333333" color="#333333">MVO</text><text transform="translate(112.28,895.15) rotate(-90)" text-anchor="end" font-size="9.6" fill="#333333" color="#333333">GWO</text><text transform="translate(124.1,895.15) rotate(-90)" text-anchor="end" font-size="9.6" fill="#333333" color="#333333">TLBO</text><text transform="translate(135.93,895.15) rotate(-90)" text-anchor="end" font-size="9.6" fill="#333333" color="#333333">GSA</text><text transform="translate(147.76,895.15) rotate(-90)" text-anchor="end" font-size="9.6" fill="#333333" color="#333333">PSO</text><text transform="translate(159.59,895.15) rotate(-90)" text-anchor="end" font-size="9.6" fill="#333333" color="#333333">GA</text><text x="97.25" y="787.3" text-anchor="middle" font-size="10.0" font-weight="bold" fill="#101010" color="#101010">F21</text><text transform="translate(10.3,841.53) rotate(-90)" text-anchor="middle" font-size="10.4" fill="#333333" color="#333333">objective function</text><text x="97.25" y="929.35" text-anchor="middle" font-size="10.4" fill="#333333" color="#333333">algorithm</text></g><g><clipPath id="cF22"><rect x="210" y="788.9" width="131" height="104.35"/></clipPath><rect x="210.6" y="789.5" width="129.8" height="103.15" fill="none" stroke="#3a3a3a"/><path d="M216.5 892.65v-1.4M216.5 789.5v1.4M228.3 892.65v-1.4M228.3 789.5v1.4M240.1 892.65v-1.4M240.1 789.5v1.4M251.9 892.65v-1.4M251.9 789.5v1.4M263.7 892.65v-1.4M263.7 789.5v1.4M275.5 892.65v-1.4M275.5 789.5v1.4M287.3 892.65v-1.4M287.3 789.5v1.4M299.1 892.65v-1.4M299.1 789.5v1.4M310.9 892.65v-1.4M310.9 789.5v1.4M322.7 892.65v-1.4M322.7 789.5v1.4M334.5 892.65v-1.4M334.5 789.5v1.4M210.6 880.05h1.4M340.4 880.05h-1.4M210.6 808.96h1.4M340.4 808.96h-1.4M210.6 826.87h1.4M340.4 826.87h-1.4M210.6 839.58h1.4M340.4 839.58h-1.4M210.6 849.44h1.4M340.4 849.44h-1.4M210.6 857.49h1.4M340.4 857.49h-1.4M210.6 864.3h1.4M340.4 864.3h-1.4M210.6 870.19h1.4M340.4 870.19h-1.4M210.6 875.4h1.4M340.4 875.4h-1.4" stroke="#3a3a3a" stroke-width="1.0" fill="none"/><g clip-path="url(#cF22)" stroke-width="1.0"><path d="M213.55 882.65H219.45" stroke="#ff0000"/><path d="M237.15 882.65H243.05" stroke="#ff0000"/><path d="M251.9 860.12V805.04M251.9 881.9V881.9" stroke="#000000" stroke-dasharray="2.9 3.1" fill="none"/><path d="M250.42 805.04H253.37M250.42 881.9H253.37" stroke="#000000" fill="none"/><rect x="248.95" y="860.12" width="5.9" height="21.78" stroke="#0000ff" fill="none"/><path d="M248.95 881.4H254.85" stroke="#ff0000"/><path d="M263.7 850.11V823.07M263.7 882.65V882.65" stroke="#000000" stroke-dasharray="2.9 3.1" fill="none"/><path d="M262.22 823.07H265.18M262.22 882.65H265.18" stroke="#000000" fill="none"/><rect x="260.75" y="850.11" width="5.9" height="32.55" stroke="#0000ff" fill="none"/><path d="M260.75 882.65H266.65" stroke="#ff0000"/><path d="M275.5 869.38V850.11M275.5 882.65V882.65" stroke="#000000" stroke-dasharray="2.9 3.1" fill="none"/><path d="M274.02 850.11H276.98M274.02 882.65H276.98" stroke="#000000" fill="none"/><rect x="272.55" y="869.38" width="5.9" height="13.27" stroke="#0000ff" fill="none"/><path d="M272.55 882.65H278.45" stroke="#ff0000"/><path d="M284.35 882.65H290.25" stroke="#ff0000"/><path d="M299.1 865.13V862.63M299.1 875.64V873.14" stroke="#000000" stroke-dasharray="2.9 3.1" fill="none"/><path d="M297.62 862.63H300.57M297.62 875.64H300.57" stroke="#000000" fill="none"/><rect x="296.15" y="865.13" width="5.9" height="8.01" stroke="#0000ff" fill="none"/><path d="M296.15 871.39H302.05" stroke="#ff0000"/><path d="M307.95 882.65H313.85" stroke="#ff0000"/><path d="M322.7 836.84V805.54M322.7 882.65V882.65" stroke="#000000" stroke-dasharray="2.9 3.1" fill="none"/><path d="M321.22 805.54H324.18M321.22 882.65H324.18" stroke="#000000" fill="none"/><rect x="319.75" y="836.84" width="5.9" height="45.82" stroke="#0000ff" fill="none"/><path d="M319.75 882.65H325.65" stroke="#ff0000"/><path d="M334.5 853.36V820.57M334.5 880.15V878.9" stroke="#000000" stroke-dasharray="2.9 3.1" fill="none"/><path d="M333.02 820.57H335.98M333.02 880.15H335.98" stroke="#000000" fill="none"/><rect x="331.55" y="853.36" width="5.9" height="25.54" stroke="#0000ff" fill="none"/><path d="M331.55 875.14H337.45" stroke="#ff0000"/></g><g stroke-width="1.0"><path d="M223.8 850.61H232.8M228.3 846.11V855.11" stroke="#ff0000"/><path d="M235.6 850.61H244.6M240.1 846.11V855.11" stroke="#ff0000"/><path d="M271 823.82H280M275.5 819.32V828.32" stroke="#ff0000"/><path d="M294.6 843.85H303.6M299.1 839.35V848.35" stroke="#ff0000"/><path d="M294.6 845.85H303.6M299.1 841.35V850.35" stroke="#ff0000"/></g><text x="208.8" y="884.95" text-anchor="end" font-size="9.6" fill="#333333" color="#333333">-10<tspan dy="-4.6" font-size="7.2">1</tspan></text><text transform="translate(219.7,895.15) rotate(-90)" text-anchor="end" font-size="9.6" fill="#333333" color="#333333">PEOA</text><text transform="translate(231.5,895.15) rotate(-90)" text-anchor="end" font-size="9.6" fill="#333333" color="#333333">RSA</text><text transform="translate(243.3,895.15) rotate(-90)" text-anchor="end" font-size="9.6" fill="#333333" color="#333333">MPA</text><text transform="translate(255.1,895.15) rotate(-90)" text-anchor="end" font-size="9.6" fill="#333333" color="#333333">TSA</text><text transform="translate(266.9,895.15) rotate(-90)" text-anchor="end" font-size="9.6" fill="#333333" color="#333333">WOA</text><text transform="translate(278.7,895.15) rotate(-90)" text-anchor="end" font-size="9.6" fill="#333333" color="#333333">MVO</text><text transform="translate(290.5,895.15) rotate(-90)" text-anchor="end" font-size="9.6" fill="#333333" color="#333333">GWO</text><text transform="translate(302.3,895.15) rotate(-90)" text-anchor="end" font-size="9.6" fill="#333333" color="#333333">TLBO</text><text transform="translate(314.1,895.15) rotate(-90)" text-anchor="end" font-size="9.6" fill="#333333" color="#333333">GSA</text><text transform="translate(325.9,895.15) rotate(-90)" text-anchor="end" font-size="9.6" fill="#333333" color="#333333">PSO</text><text transform="translate(337.7,895.15) rotate(-90)" text-anchor="end" font-size="9.6" fill="#333333" color="#333333">GA</text><text x="275.5" y="787.3" text-anchor="middle" font-size="10.0" font-weight="bold" fill="#101010" color="#101010">F22</text><text transform="translate(188.4,841.53) rotate(-90)" text-anchor="middle" font-size="10.4" fill="#333333" color="#333333">objective function</text><text x="275.5" y="929.35" text-anchor="middle" font-size="10.4" fill="#333333" color="#333333">algorithm</text></g><g><clipPath id="cF23"><rect x="388.1" y="788.9" width="130.8" height="104.35"/></clipPath><rect x="388.7" y="789.5" width="129.6" height="103.15" fill="none" stroke="#3a3a3a"/><path d="M394.59 892.65v-1.4M394.59 789.5v1.4M406.37 892.65v-1.4M406.37 789.5v1.4M418.15 892.65v-1.4M418.15 789.5v1.4M429.94 892.65v-1.4M429.94 789.5v1.4M441.72 892.65v-1.4M441.72 789.5v1.4M453.5 892.65v-1.4M453.5 789.5v1.4M465.28 892.65v-1.4M465.28 789.5v1.4M477.06 892.65v-1.4M477.06 789.5v1.4M488.85 892.65v-1.4M488.85 789.5v1.4M500.63 892.65v-1.4M500.63 789.5v1.4M512.41 892.65v-1.4M512.41 789.5v1.4M388.7 879.25h1.4M518.3 879.25h-1.4M388.7 813.2h1.4M518.3 813.2h-1.4M388.7 829.84h1.4M518.3 829.84h-1.4M388.7 841.64h1.4M518.3 841.64h-1.4M388.7 850.8h1.4M518.3 850.8h-1.4M388.7 858.29h1.4M518.3 858.29h-1.4M388.7 864.61h1.4M518.3 864.61h-1.4M388.7 870.09h1.4M518.3 870.09h-1.4M388.7 874.93h1.4M518.3 874.93h-1.4" stroke="#3a3a3a" stroke-width="1.0" fill="none"/><g clip-path="url(#cF23)" stroke-width="1.0"><path d="M391.65 881.9H397.54" stroke="#ff0000"/><path d="M415.21 881.9H421.1" stroke="#ff0000"/><path d="M429.94 825.07V806.8M429.94 881.4V881.4" stroke="#000000" stroke-dasharray="2.9 3.1" fill="none"/><path d="M428.46 806.8H431.41M428.46 881.4H431.41" stroke="#000000" fill="none"/><rect x="426.99" y="825.07" width="5.89" height="56.33" stroke="#0000ff" fill="none"/><path d="M426.99 868.38H432.88" stroke="#ff0000"/><path d="M441.72 852.61V821.82M441.72 881.9V881.9" stroke="#000000" stroke-dasharray="2.9 3.1" fill="none"/><path d="M440.25 821.82H443.19M440.25 881.9H443.19" stroke="#000000" fill="none"/><rect x="438.77" y="852.61" width="5.89" height="29.29" stroke="#0000ff" fill="none"/><path d="M438.77 881.9H444.66" stroke="#ff0000"/><path d="M453.5 869.64V852.61M453.5 881.9V881.9" stroke="#000000" stroke-dasharray="2.9 3.1" fill="none"/><path d="M452.03 852.61H454.97M452.03 881.9H454.97" stroke="#000000" fill="none"/><rect x="450.55" y="869.64" width="5.89" height="12.27" stroke="#0000ff" fill="none"/><path d="M450.55 881.9H456.45" stroke="#ff0000"/><path d="M462.34 881.9H468.23" stroke="#ff0000"/><path d="M477.06 867.13V863.88M477.06 877.65V874.64" stroke="#000000" stroke-dasharray="2.9 3.1" fill="none"/><path d="M475.59 863.88H478.54M475.59 877.65H478.54" stroke="#000000" fill="none"/><rect x="474.12" y="867.13" width="5.89" height="7.51" stroke="#0000ff" fill="none"/><path d="M474.12 872.64H480.01" stroke="#ff0000"/><path d="M485.9 881.9H491.79" stroke="#ff0000"/><path d="M500.63 828.33V821.82M500.63 881.9V881.9" stroke="#000000" stroke-dasharray="2.9 3.1" fill="none"/><path d="M499.15 821.82H502.1M499.15 881.9H502.1" stroke="#000000" fill="none"/><rect x="497.68" y="828.33" width="5.89" height="53.58" stroke="#0000ff" fill="none"/><path d="M497.68 881.9H503.57" stroke="#ff0000"/><path d="M512.41 859.37V821.82M512.41 881.4V877.15" stroke="#000000" stroke-dasharray="2.9 3.1" fill="none"/><path d="M510.94 821.82H513.88M510.94 881.4H513.88" stroke="#000000" fill="none"/><rect x="509.46" y="859.37" width="5.89" height="17.78" stroke="#0000ff" fill="none"/><path d="M509.46 871.89H515.35" stroke="#ff0000"/></g><g stroke-width="1.0"><path d="M401.87 841.34H410.87M406.37 836.84V845.84" stroke="#ff0000"/><path d="M401.87 852.61H410.87M406.37 848.11V857.11" stroke="#ff0000"/><path d="M413.65 852.61H422.65M418.15 848.11V857.11" stroke="#ff0000"/><path d="M472.56 845.1H481.56M477.06 840.6V849.6" stroke="#ff0000"/><path d="M472.56 847.6H481.56M477.06 843.1V852.1" stroke="#ff0000"/><path d="M484.35 822.57H493.35M488.85 818.07V827.07" stroke="#ff0000"/></g><text x="386.9" y="884.15" text-anchor="end" font-size="9.6" fill="#333333" color="#333333">-10<tspan dy="-4.6" font-size="7.2">1</tspan></text><text transform="translate(397.79,895.15) rotate(-90)" text-anchor="end" font-size="9.6" fill="#333333" color="#333333">PEOA</text><text transform="translate(409.57,895.15) rotate(-90)" text-anchor="end" font-size="9.6" fill="#333333" color="#333333">RSA</text><text transform="translate(421.35,895.15) rotate(-90)" text-anchor="end" font-size="9.6" fill="#333333" color="#333333">MPA</text><text transform="translate(433.14,895.15) rotate(-90)" text-anchor="end" font-size="9.6" fill="#333333" color="#333333">TSA</text><text transform="translate(444.92,895.15) rotate(-90)" text-anchor="end" font-size="9.6" fill="#333333" color="#333333">WOA</text><text transform="translate(456.7,895.15) rotate(-90)" text-anchor="end" font-size="9.6" fill="#333333" color="#333333">MVO</text><text transform="translate(468.48,895.15) rotate(-90)" text-anchor="end" font-size="9.6" fill="#333333" color="#333333">GWO</text><text transform="translate(480.26,895.15) rotate(-90)" text-anchor="end" font-size="9.6" fill="#333333" color="#333333">TLBO</text><text transform="translate(492.05,895.15) rotate(-90)" text-anchor="end" font-size="9.6" fill="#333333" color="#333333">GSA</text><text transform="translate(503.83,895.15) rotate(-90)" text-anchor="end" font-size="9.6" fill="#333333" color="#333333">PSO</text><text transform="translate(515.61,895.15) rotate(-90)" text-anchor="end" font-size="9.6" fill="#333333" color="#333333">GA</text><text x="453.5" y="787.3" text-anchor="middle" font-size="10.0" font-weight="bold" fill="#101010" color="#101010">F23</text><text transform="translate(366.5,841.53) rotate(-90)" text-anchor="middle" font-size="10.4" fill="#333333" color="#333333">objective function</text><text x="453.5" y="929.35" text-anchor="middle" font-size="10.4" fill="#333333" color="#333333">algorithm</text></g></svg></body></html>
